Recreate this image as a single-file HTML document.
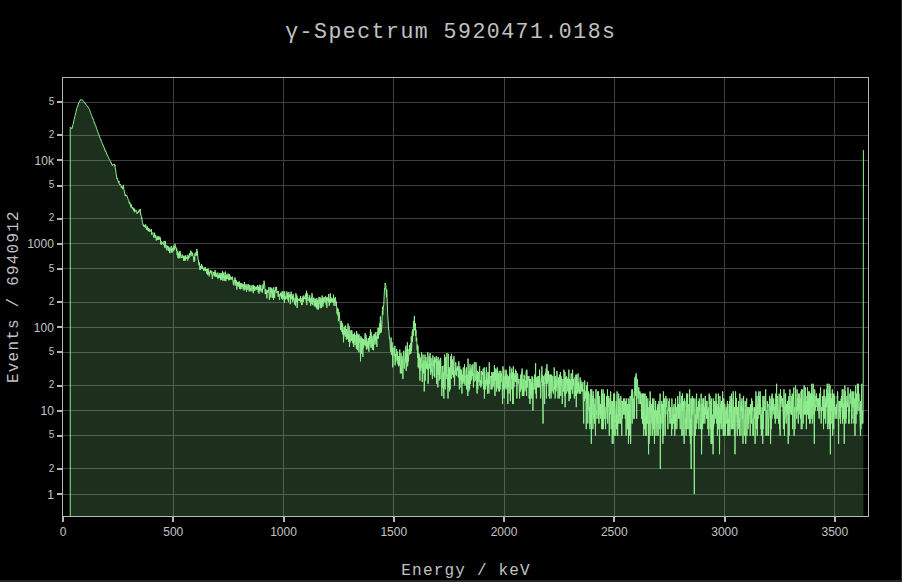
<!DOCTYPE html><html><head><meta charset="utf-8"><title>γ-Spectrum</title><style>
html,body{margin:0;padding:0;background:#262728;overflow:hidden}
#wrap{position:absolute;left:0;top:0;width:901px;height:580px;background:#000;overflow:hidden}
svg{position:absolute;left:0;top:0;display:block}
.tk{font-family:"Liberation Sans",sans-serif;font-size:12px;fill:#c4c4c4}
.tm{font-family:"Liberation Sans",sans-serif;font-size:10px;fill:#c4c4c4}
.ti{font-family:"Liberation Mono",monospace;font-size:21.5px;letter-spacing:1.5px;fill:#c2c2c2}
.at{font-family:"Liberation Mono",monospace;font-size:16px;letter-spacing:1.2px;fill:#c2c2c2}
</style></head><body><div id="wrap">
<svg width="901" height="580" viewBox="0 0 901 580">
<rect x="0" y="0" width="901" height="580" fill="#000"/>
<path d="M173,78h1v438h-1zM283,78h1v438h-1zM393,78h1v438h-1zM504,78h1v438h-1zM614,78h1v438h-1zM724,78h1v438h-1zM834,78h1v438h-1zM63,494h805v1h-805zM63,410h805v1h-805zM63,327h805v1h-805zM63,243h805v1h-805zM63,160h805v1h-805zM63,468h805v1h-805zM63,385h805v1h-805zM63,302h805v1h-805zM63,218h805v1h-805zM63,135h805v1h-805zM63,435h805v1h-805zM63,352h805v1h-805zM63,268h805v1h-805zM63,185h805v1h-805zM63,102h805v1h-805z" fill="#3f3f3f" stroke="none"/>
<defs><clipPath id="c"><rect x="63.0" y="78.0" width="805.0" height="438.0"/></clipPath></defs>
<g clip-path="url(#c)">
<path d="M70.23,516.00L70.23,127.21L70.62,127.47L70.82,127.03L71.01,127.47L71.21,127.76L71.80,128.80L71.99,128.52L72.19,127.97L72.97,124.80L73.16,124.18L73.95,120.14L74.14,119.48L74.92,116.23L75.12,115.40L75.90,112.28L76.10,111.31L76.88,108.18L77.07,107.67L77.85,105.93L78.05,104.90L78.83,102.55L79.03,102.41L79.81,100.80L80.00,100.88L80.79,99.53L80.98,99.87L81.18,99.63L81.76,100.08L81.96,99.78L82.74,100.24L82.94,100.57L83.72,101.25L83.91,101.65L84.50,102.74L84.70,102.44L84.89,102.74L85.67,104.49L85.87,104.40L86.65,105.13L86.85,105.54L87.63,107.01L87.82,106.77L88.60,108.02L88.80,108.27L89.58,109.62L89.78,110.68L90.56,112.51L90.76,113.35L91.54,115.27L91.73,115.69L92.51,117.96L92.71,118.47L92.91,118.26L93.49,120.25L93.69,120.82L94.47,123.32L94.66,123.10L95.25,125.27L95.45,125.17L95.64,125.40L96.42,127.88L96.62,128.71L97.21,130.29L97.40,130.21L97.60,131.63L97.79,131.59L98.38,133.80L98.57,133.83L99.36,136.03L99.55,136.71L100.33,138.75L100.53,139.40L100.72,139.02L101.31,141.11L101.51,141.25L102.29,143.64L102.48,143.80L103.07,145.55L103.26,145.24L103.46,145.82L104.05,147.90L104.24,147.87L104.44,147.99L105.02,150.64L105.22,150.35L105.41,151.11L105.81,150.80L106.00,152.23L106.20,152.11L106.39,152.78L106.78,154.64L107.17,154.41L107.37,154.82L108.15,156.75L108.35,157.12L109.13,158.87L109.32,159.41L109.52,159.33L110.11,160.67L110.30,161.45L111.08,163.04L111.28,162.78L112.06,165.22L112.26,165.52L112.45,165.75L112.84,164.65L113.04,164.93L113.23,164.46L113.43,164.95L114.01,164.18L114.21,164.63L114.60,163.92L114.80,166.10L114.99,165.44L115.19,167.79L115.97,172.19L116.16,174.00L116.95,178.91L117.14,178.14L117.34,178.05L117.92,180.87L118.12,180.90L118.71,182.89L118.90,181.07L119.10,183.77L119.29,183.62L119.88,185.13L120.07,184.95L120.46,184.27L120.86,185.67L121.05,185.74L121.25,187.49L121.83,185.97L122.03,188.09L122.42,187.59L122.81,189.19L123.01,187.87L123.40,184.87L123.79,189.10L123.98,189.34L124.76,193.78L124.96,194.60L125.35,196.13L125.55,194.43L125.74,195.56L125.94,195.37L126.33,195.24L126.52,195.91L126.72,195.36L126.91,195.44L127.70,197.92L127.89,198.69L128.67,200.71L128.87,200.70L129.46,203.91L129.65,201.85L129.85,203.72L130.24,203.67L130.63,205.98L130.82,206.03L131.02,207.49L131.21,204.29L131.61,206.55L131.80,206.74L132.39,208.62L132.58,207.03L132.78,208.02L133.56,210.41L133.76,207.77L134.34,212.28L134.54,211.15L134.73,208.95L134.93,211.70L135.51,211.38L135.71,210.39L136.30,210.21L136.49,211.58L136.69,211.55L137.08,213.85L137.47,212.33L137.66,212.65L138.06,212.93L138.45,211.06L138.64,212.60L139.23,209.60L139.42,210.51L139.62,210.31L140.01,211.77L140.21,209.05L140.40,210.42L140.60,214.92L140.79,214.34L141.38,216.78L141.57,218.90L141.77,217.76L142.36,221.90L142.55,222.74L143.33,225.73L143.53,226.06L143.72,224.59L144.12,226.90L144.31,225.25L144.51,226.74L144.90,226.83L145.29,225.93L145.48,227.61L145.68,224.42L146.27,227.93L146.46,229.58L147.24,226.38L147.44,230.10L147.63,227.91L148.22,230.75L148.42,228.33L149.20,231.82L149.39,228.97L149.59,228.78L149.78,231.20L150.17,230.57L150.37,230.37L150.96,229.60L151.15,232.03L151.35,229.26L151.74,234.86L152.13,234.30L152.32,233.26L152.91,232.43L153.11,233.20L153.30,234.27L153.89,237.71L154.08,235.63L154.28,236.21L154.67,232.74L155.06,237.26L155.26,237.56L155.65,234.97L156.04,238.20L156.23,240.54L157.02,236.54L157.21,237.74L157.80,239.98L157.99,235.95L158.19,239.92L158.77,237.56L158.97,238.61L159.17,236.54L159.75,239.72L159.95,239.47L160.14,237.20L160.92,244.23L161.12,241.18L161.32,244.75L161.90,243.36L162.10,243.22L162.49,243.87L162.68,242.37L162.88,243.08L163.07,243.65L163.47,244.75L163.86,244.27L164.05,240.94L164.44,247.49L164.83,245.01L165.03,244.97L165.22,240.91L165.81,246.34L166.01,248.30L166.20,244.90L166.79,245.76L166.98,250.36L167.37,245.80L167.77,246.42L167.96,247.65L168.55,246.54L168.74,250.93L168.94,247.89L169.52,252.19L169.72,247.53L169.92,253.16L170.31,249.29L170.70,249.29L170.89,248.92L171.28,245.92L171.48,252.09L171.67,250.93L171.87,249.55L172.07,252.74L172.26,248.05L172.65,250.28L172.85,249.93L173.24,246.73L173.63,251.06L173.82,245.69L174.41,249.59L174.61,249.25L174.80,247.21L175.00,243.83L175.39,247.77L175.58,246.69L175.78,247.65L175.97,247.37L176.56,251.02L176.76,248.58L177.15,255.13L177.54,250.97L177.73,252.55L177.93,257.91L178.52,253.30L178.71,258.34L179.30,251.46L179.49,255.33L179.69,253.82L179.88,258.28L180.08,251.06L180.47,255.88L180.67,254.88L181.45,257.85L181.64,256.91L182.03,257.75L182.23,254.54L182.42,256.85L182.62,256.44L182.82,256.39L183.40,258.55L183.60,256.44L183.79,260.97L183.99,255.68L184.38,260.45L184.57,257.11L185.16,256.29L185.36,260.57L185.55,257.06L185.75,255.28L186.33,258.66L186.53,257.59L186.72,257.11L187.12,258.66L187.31,258.12L187.51,259.21L187.70,260.62L187.90,254.69L188.29,258.99L188.48,258.77L188.68,256.13L189.27,257.48L189.46,255.43L189.66,253.16L189.85,256.80L190.24,253.39L190.44,254.49L190.63,250.71L191.22,251.33L191.42,251.91L192.00,256.08L192.20,255.13L192.39,254.01L192.59,252.69L193.17,256.54L193.37,256.60L193.96,261.97L194.15,259.94L194.35,256.70L194.74,260.51L194.93,253.44L195.13,255.28L195.32,256.03L196.11,252.00L196.30,253.68L196.50,255.28L196.89,249.04L197.08,254.69L197.28,255.73L197.48,251.51L198.06,259.43L198.26,259.21L199.04,265.35L199.23,262.33L200.02,269.97L200.21,266.62L200.41,265.88L200.60,269.74L200.99,266.02L201.19,268.36L201.38,264.00L201.97,268.72L202.17,265.62L202.75,268.94L202.95,267.38L203.14,268.87L203.34,268.51L203.73,271.03L203.93,269.67L204.12,270.12L204.90,267.38L205.10,271.10L205.29,267.31L205.88,270.57L206.08,270.87L206.47,269.16L206.66,273.57L206.86,271.65L207.05,269.89L207.44,268.94L207.64,275.00L207.83,272.43L208.03,268.44L208.81,274.15L209.01,272.59L209.20,276.39L209.40,272.28L209.79,272.92L209.98,272.20L210.18,270.34L210.38,272.68L210.77,270.49L210.96,271.18L211.35,274.40L211.74,271.88L211.94,271.18L212.33,278.98L212.72,275.78L212.92,274.49L213.31,275.25L213.50,272.12L213.70,273.24L213.89,274.23L214.48,272.12L214.68,276.22L214.87,273.98L215.07,270.19L215.46,276.84L215.65,272.43L215.85,273.32L216.24,273.24L216.63,276.66L216.83,275.25L217.41,277.48L217.61,277.11L217.80,272.59L218.00,278.69L218.58,275.25L218.78,275.60L218.98,277.94L219.37,273.49L219.56,277.66L219.76,276.84L220.15,273.08L220.54,280.14L220.73,274.83L221.32,279.75L221.52,279.65L221.71,273.16L222.10,278.13L222.49,270.95L222.69,277.66L222.88,280.74L223.28,274.07L223.47,277.85L223.67,272.76L224.06,272.43L224.25,280.84L224.45,275.78L224.64,276.57L225.03,279.46L225.43,271.57L225.62,278.69L225.82,281.14L226.01,274.91L226.40,276.22L226.60,278.41L226.79,279.07L226.99,274.32L227.38,277.94L227.58,278.88L227.77,278.98L227.97,273.49L228.36,276.48L228.55,279.75L228.75,280.34L229.33,273.98L229.53,279.94L229.73,275.34L230.31,276.48L230.51,278.98L230.70,279.65L230.90,278.03L231.29,278.88L231.48,278.98L231.68,276.93L232.07,279.65L232.27,277.66L232.46,276.66L233.24,283.34L233.44,285.22L234.03,280.34L234.22,281.86L234.42,282.28L235.00,277.39L235.20,285.56L235.39,281.14L235.59,279.75L235.78,283.66L236.18,283.34L236.37,283.55L236.57,280.54L236.76,289.56L237.15,286.14L237.35,281.96L238.13,286.61L238.33,283.99L238.52,281.86L238.91,286.14L239.11,281.86L239.30,281.45L239.50,288.67L240.08,284.10L240.28,289.30L240.48,282.91L241.06,288.80L241.26,287.56L241.84,283.12L242.04,284.54L242.23,286.73L242.82,284.10L243.02,289.17L243.21,288.80L243.60,284.77L243.99,290.60L244.19,289.17L244.38,281.86L244.97,288.18L245.17,289.43L245.95,284.21L246.14,285.68L246.53,291.94L246.93,284.77L247.12,288.30L247.51,287.56L247.90,289.81L248.10,283.99L248.88,289.43L249.08,290.86L249.27,291.53L249.47,284.88L249.86,286.37L250.05,285.56L250.44,291.13L250.84,288.42L251.03,289.81L251.42,285.68L251.81,286.49L252.01,291.53L252.20,285.33L252.79,286.37L252.99,287.69L253.38,293.19L253.57,284.88L253.77,285.11L253.96,287.32L254.16,286.14L254.74,290.86L254.94,286.49L255.72,289.30L255.92,287.32L256.11,289.56L256.70,286.49L256.89,288.67L257.29,289.94L257.68,284.99L257.87,285.91L258.26,292.21L258.65,286.84L258.85,289.94L259.04,293.62L259.24,286.73L259.63,290.73L259.83,284.77L260.61,290.33L260.80,285.22L261.19,292.07L261.59,291.53L261.78,290.73L261.98,288.67L262.37,292.63L262.56,289.94L262.76,288.80L262.95,284.32L263.15,289.05L263.54,285.91L263.74,285.45L263.93,280.74L264.52,282.28L264.71,284.99L265.30,294.19L265.49,289.56L265.69,293.47L265.89,289.43L266.08,294.05L266.47,291.39L266.67,290.73L266.86,298.35L267.06,290.60L267.45,292.63L267.64,290.73L267.84,290.07L268.04,292.77L268.43,291.26L268.62,289.30L268.82,287.20L269.40,300.02L269.60,296.91L270.19,287.32L270.38,291.13L270.58,289.56L270.77,297.54L271.16,287.69L271.36,292.91L271.55,290.07L271.75,289.30L272.34,297.86L272.53,290.20L272.73,290.46L273.31,287.44L273.51,299.85L274.09,290.20L274.29,290.20L274.49,296.14L274.68,297.86L275.27,286.84L275.46,287.93L275.66,291.26L276.24,287.69L276.44,287.93L276.64,287.08L276.83,293.05L277.22,291.80L277.42,291.80L277.81,290.99L278.20,296.75L278.39,291.26L279.18,297.38L279.37,297.54L279.57,300.02L279.96,294.19L280.15,296.29L280.35,295.08L280.74,292.63L281.13,295.98L281.33,293.05L281.52,298.51L282.11,291.26L282.30,293.33L282.69,299.68L283.09,291.53L283.28,298.51L284.06,293.76L284.26,294.63L284.45,302.86L284.65,291.39L285.04,295.98L285.24,298.19L285.43,299.51L286.02,295.83L286.21,296.14L286.60,298.51L286.80,291.39L286.99,293.76L287.19,294.34L287.39,293.05L287.78,300.19L287.97,299.85L288.17,294.78L288.56,302.13L288.75,291.94L288.95,293.19L289.14,293.76L289.93,297.54L290.12,294.93L290.32,304.18L290.71,294.34L290.90,298.84L291.10,291.66L291.69,299.18L291.88,294.78L292.08,297.54L292.47,296.29L292.66,302.13L292.86,300.71L293.05,299.01L293.25,293.90L293.44,299.68L293.84,298.68L294.03,299.18L294.81,304.57L295.01,297.70L295.59,305.75L295.79,293.19L295.99,293.33L296.57,302.13L296.77,299.51L296.96,295.53L297.16,308.02L297.74,298.19L297.94,301.06L298.14,299.51L298.72,299.51L298.92,299.51L299.31,299.18L299.70,301.06L299.89,298.35L300.29,300.02L300.68,295.98L300.87,302.31L301.07,298.19L301.65,305.15L301.85,303.23L302.24,304.76L302.63,296.91L302.83,297.23L303.02,296.44L303.41,301.77L303.61,300.88L303.80,295.38L304.00,299.01L304.59,296.91L304.78,297.86L305.37,299.34L305.56,293.62L305.76,295.08L306.35,301.77L306.54,290.73L306.74,305.15L306.93,292.77L307.52,296.60L307.71,294.49L307.91,300.88L308.50,298.84L308.69,298.35L308.89,297.38L309.47,302.31L309.67,295.23L310.25,301.24L310.45,299.51L310.65,305.75L310.84,298.51L311.43,300.36L311.62,297.23L311.82,303.80L312.01,293.19L312.40,301.06L312.60,302.31L312.80,305.15L313.19,299.34L313.38,302.13L313.58,301.59L313.77,297.70L314.36,306.35L314.55,304.96L314.95,298.68L315.34,300.54L315.53,306.35L315.73,298.84L316.31,307.81L316.51,304.18L316.90,298.19L317.10,309.10L317.29,300.19L317.49,303.80L317.88,300.36L318.07,309.76L318.27,302.86L318.46,308.66L319.05,296.91L319.25,303.61L319.44,302.68L320.03,297.23L320.22,308.23L320.42,298.84L320.81,305.75L321.20,298.51L321.40,304.18L321.59,308.02L322.18,295.53L322.37,299.34L322.96,306.56L323.15,297.38L323.35,303.42L323.55,298.35L324.13,300.54L324.33,298.03L324.52,297.38L324.91,302.50L325.11,300.88L325.30,299.34L325.70,296.29L326.09,304.57L326.28,302.68L326.48,297.70L326.87,307.81L327.06,300.71L327.26,300.19L327.65,297.23L327.85,300.71L328.04,298.84L328.24,299.68L328.43,302.31L328.63,294.05L329.02,298.51L329.21,305.75L329.80,298.51L330.00,303.23L330.19,295.83L330.39,293.33L330.58,300.88L330.97,300.71L331.17,302.50L331.75,297.70L331.95,301.41L332.15,302.13L332.34,298.68L332.93,300.19L333.12,301.59L333.32,303.05L333.51,294.63L333.90,300.54L334.10,305.95L334.49,298.51L334.88,303.23L335.08,298.19L335.47,297.23L335.86,303.61L336.05,305.95L336.25,301.59L336.84,308.88L337.03,313.78L337.42,307.81L337.81,311.36L338.01,315.57L338.20,308.88L338.40,321.24L338.79,318.30L338.99,313.78L339.18,312.31L339.77,320.04L339.96,320.64L340.75,329.87L340.94,321.24L341.53,320.94L341.72,331.87L341.92,331.46L342.11,322.81L342.50,333.56L342.70,324.45L342.90,334.43L343.29,330.26L343.48,342.29L343.68,338.15L343.87,333.13L344.07,327.24L344.46,334.87L344.65,327.60L344.85,326.52L345.24,336.71L345.44,325.47L345.63,325.82L345.83,328.72L346.41,339.65L346.61,329.10L346.80,333.13L347.20,330.66L347.59,336.71L347.78,339.14L347.98,323.46L348.56,341.75L348.76,335.32L349.15,326.17L349.54,346.97L349.74,333.99L350.13,342.29L350.52,330.66L350.71,332.70L351.30,330.26L351.50,340.68L351.69,338.15L351.89,330.66L352.08,340.68L352.47,340.16L352.67,334.43L352.86,343.41L353.45,333.99L353.65,346.97L354.23,334.43L354.43,341.75L354.62,332.70L354.82,345.15L355.40,343.41L355.60,342.84L355.80,334.87L356.38,348.90L356.58,331.06L357.36,350.24L357.56,339.65L357.75,333.56L357.95,347.60L358.34,345.15L358.53,335.32L358.92,352.35L359.12,334.43L359.31,342.29L359.51,339.14L360.10,338.15L360.29,345.74L360.49,361.35L360.88,336.24L361.27,353.83L361.46,343.41L361.66,337.66L362.25,341.21L362.44,349.56L362.64,338.64L362.83,356.98L363.22,339.14L363.42,339.14L363.61,347.60L364.20,340.16L364.40,343.41L364.59,345.15L365.18,333.13L365.37,341.21L365.76,345.74L365.96,334.87L366.16,340.16L366.35,349.56L366.74,338.15L367.13,345.74L367.33,342.29L367.72,348.24L367.91,340.68L368.11,346.35L368.31,349.56L368.50,338.15L368.89,351.63L369.09,346.35L369.28,345.15L369.67,336.24L370.06,343.98L370.26,336.24L370.46,329.48L370.85,347.60L371.04,331.87L371.24,333.56L372.02,347.60L372.21,339.14L372.41,349.56L373.00,335.78L373.19,343.41L373.58,350.24L373.97,334.43L374.17,340.68L374.36,334.43L374.95,344.56L375.15,337.66L375.34,332.28L375.54,339.65L375.93,335.78L376.12,343.41L376.32,336.71L376.91,346.97L377.10,331.87L377.30,338.64L377.88,336.24L378.08,327.97L378.27,338.64L378.86,327.60L379.06,333.13L379.25,334.43L379.84,323.46L380.03,328.72L380.42,316.37L380.62,333.13L380.81,320.64L381.01,323.13L381.21,332.28L381.79,327.60L381.99,319.74L382.57,306.76L382.77,315.05L382.96,309.99L383.75,304.57L383.94,300.36L384.53,288.05L384.72,288.30L384.92,289.30L385.11,282.91L385.70,285.33L385.90,285.68L386.48,297.23L386.68,289.43L386.87,292.35L387.66,313.28L387.85,316.64L388.63,329.87L388.83,329.48L389.41,338.64L389.61,337.18L389.81,338.15L390.59,351.63L390.78,348.90L391.17,337.66L391.37,354.59L391.56,350.93L391.76,350.24L392.15,342.29L392.35,355.37L392.54,347.60L392.74,367.40L393.13,352.35L393.52,353.08L393.71,352.35L393.91,347.60L394.30,356.17L394.50,356.17L394.69,353.08L394.89,345.74L395.08,365.27L395.47,353.83L395.67,362.29L396.06,354.59L396.45,354.59L396.65,348.90L396.84,360.43L397.43,360.43L397.62,351.63L397.82,364.25L398.41,356.17L398.60,366.32L398.80,359.54L399.38,365.27L399.58,355.37L399.77,349.56L400.36,373.35L400.56,366.32L400.75,370.85L400.95,353.08L401.34,363.26L401.53,373.35L401.92,356.17L402.31,361.35L402.51,359.54L402.90,378.94L403.29,355.37L403.49,350.93L404.27,367.40L404.46,368.52L405.25,350.24L405.44,362.29L405.83,345.74L406.22,370.85L406.42,352.35L406.61,362.29L406.81,348.90L407.20,350.24L407.40,342.29L407.59,366.32L408.18,357.81L408.37,361.35L408.96,348.90L409.16,350.93L409.35,354.59L409.55,345.15L410.13,352.35L410.33,344.56L410.52,343.41L410.72,353.83L411.11,349.56L411.31,336.24L411.50,350.93L412.09,337.66L412.28,331.46L412.48,341.75L412.87,329.10L413.07,329.87L413.26,335.78L413.46,320.94L414.04,327.60L414.24,320.04L414.43,315.84L414.63,330.26L415.02,327.24L415.22,330.66L415.41,323.13L415.61,335.78L416.00,329.87L416.19,341.21L416.78,337.66L416.97,345.74L417.17,350.24L417.37,344.56L417.76,357.81L417.95,345.74L418.15,367.40L418.73,353.08L418.93,364.25L419.12,368.52L419.52,354.59L419.91,380.48L420.10,362.29L420.49,357.81L420.69,370.85L420.88,367.40L421.08,359.54L421.67,352.35L421.86,367.40L422.06,364.25L422.25,382.09L422.84,359.54L423.03,354.59L423.62,373.35L423.82,372.08L424.01,360.43L424.21,391.43L424.79,374.67L424.99,354.59L425.38,380.48L425.77,359.54L425.97,356.98L426.55,368.52L426.75,362.29L426.94,365.27L427.53,369.67L427.72,352.35L427.92,352.35L428.12,383.77L428.70,364.25L428.90,365.27L429.09,356.17L429.68,368.52L429.87,355.37L430.07,353.08L430.66,374.67L430.85,370.85L431.05,357.81L431.63,366.32L431.83,372.08L432.02,368.52L432.42,378.94L432.61,369.67L432.81,355.37L433.20,366.32L433.59,360.43L433.78,361.35L434.17,376.04L434.37,356.98L434.57,369.67L434.76,377.46L435.15,358.66L435.54,362.29L435.74,361.35L436.32,356.17L436.52,383.77L436.72,359.54L436.91,358.66L437.30,372.08L437.50,361.35L437.69,362.29L437.89,387.40L438.08,356.98L438.47,369.67L438.67,374.67L439.06,361.35L439.26,380.48L439.45,378.94L439.65,360.43L440.04,378.94L440.23,358.66L440.43,372.08L440.62,357.81L441.41,380.48L441.60,382.09L441.80,395.96L442.19,366.32L442.38,368.52L442.58,366.32L442.77,387.40L443.36,372.08L443.56,393.62L443.95,398.46L444.14,365.27L444.34,374.67L444.53,354.59L445.12,389.36L445.32,374.67L445.51,356.98L446.10,378.94L446.29,372.08L446.49,372.08L446.88,353.08L447.07,376.04L447.27,374.67L447.47,377.46L448.05,398.46L448.25,353.83L448.44,387.40L448.83,367.40L449.22,370.85L449.42,391.43L449.62,367.40L450.20,389.36L450.40,365.27L450.79,356.17L451.18,378.94L451.37,368.52L451.57,353.83L452.16,374.67L452.35,360.43L452.55,359.54L452.94,374.67L453.13,369.67L453.33,377.46L453.92,356.17L454.11,370.85L454.31,374.67L454.50,385.54L454.89,370.85L455.09,374.67L455.28,369.67L455.48,370.85L455.67,362.29L456.07,365.27L456.26,369.67L456.46,376.04L456.85,368.52L457.04,369.67L457.24,369.67L457.43,366.32L457.82,370.85L458.02,367.40L458.22,376.04L458.41,377.46L458.80,361.35L459.00,366.32L459.19,380.48L459.39,389.36L459.78,366.32L459.97,387.40L460.17,378.94L460.56,369.67L460.76,380.48L460.95,372.08L461.15,378.94L461.34,369.67L461.93,393.62L462.12,377.46L462.52,374.67L462.71,383.77L462.91,377.46L463.10,370.85L463.30,367.40L463.88,382.09L464.08,374.67L464.28,383.77L464.47,364.25L464.86,377.46L465.06,385.54L465.25,376.04L465.84,377.46L466.03,369.67L466.43,367.40L466.62,389.36L466.82,377.46L467.01,383.77L467.60,374.67L467.79,395.96L467.99,358.66L468.77,391.43L468.97,383.77L469.36,370.85L469.55,389.36L469.75,383.77L469.94,364.25L470.53,383.77L470.73,368.52L470.92,372.08L471.12,380.48L471.51,370.85L471.70,378.94L471.90,365.27L472.29,376.04L472.68,373.35L472.88,364.25L473.46,387.40L473.66,373.35L473.85,374.67L474.05,382.09L474.24,362.29L474.63,362.29L474.83,369.67L475.42,380.48L475.61,378.94L475.81,376.04L476.00,362.29L476.59,378.94L476.78,389.36L477.18,393.62L477.37,370.85L477.57,383.77L477.76,389.36L478.54,373.35L478.74,372.08L478.93,382.09L479.52,366.32L479.72,366.32L479.91,385.54L480.50,380.48L480.69,382.09L480.89,387.40L481.28,370.85L481.48,385.54L481.67,380.48L481.87,383.77L482.06,372.08L482.45,374.67L482.65,374.67L483.23,368.52L483.43,385.54L483.63,389.36L484.21,367.40L484.41,398.46L484.60,372.08L484.99,387.40L485.38,380.48L485.58,389.36L486.36,367.40L486.56,383.77L486.75,372.08L487.14,385.54L487.34,378.94L487.53,393.62L488.12,372.08L488.32,387.40L488.51,373.35L488.90,393.62L489.29,362.29L489.49,383.77L489.68,377.46L490.27,377.46L490.47,377.46L490.66,376.04L491.05,389.36L491.25,378.94L491.44,378.94L491.83,372.08L492.03,389.36L492.23,377.46L492.42,377.46L492.62,373.35L492.81,387.40L493.20,377.46L493.40,372.08L493.79,385.54L494.18,383.77L494.38,365.27L494.96,395.96L495.16,376.04L495.35,370.85L495.55,380.48L495.74,368.52L496.13,374.67L496.33,377.46L496.53,391.43L496.92,369.67L497.11,383.77L497.31,367.40L497.70,387.40L498.09,385.54L498.28,389.36L498.68,373.35L498.87,391.43L499.07,380.48L499.26,370.85L499.46,391.43L500.04,387.40L500.24,389.36L500.83,370.85L501.02,382.09L501.22,373.35L502.00,378.94L502.19,383.77L502.58,404.05L502.98,366.32L503.17,370.85L503.56,389.36L503.76,369.67L503.95,373.35L504.15,398.46L504.93,376.04L505.13,378.94L505.32,387.40L505.91,369.67L506.10,389.36L506.30,370.85L506.88,383.77L507.08,380.48L507.28,374.67L507.86,404.05L508.06,377.46L508.45,387.40L508.84,376.04L509.03,393.62L509.82,366.32L510.01,372.08L510.40,401.15L510.79,378.94L510.99,373.35L511.58,378.94L511.77,368.52L511.97,389.36L512.36,372.08L512.75,404.05L512.94,373.35L513.14,404.05L513.33,366.32L513.73,377.46L513.92,387.40L514.51,376.04L514.70,378.94L514.90,373.35L515.29,382.09L515.48,369.67L515.68,382.09L515.88,376.04L516.07,370.85L516.66,382.09L516.85,398.46L517.44,373.35L517.64,374.67L517.83,374.67L518.03,383.77L518.61,380.48L518.81,378.94L519.59,398.46L519.79,385.54L520.18,378.94L520.37,391.43L520.57,391.43L520.76,374.67L520.96,389.36L521.54,372.08L521.74,387.40L522.13,368.52L522.33,395.96L522.52,385.54L522.72,385.54L523.11,395.96L523.30,378.94L523.50,393.62L523.69,391.43L523.89,395.96L524.09,374.67L524.48,380.48L524.67,376.04L524.87,391.43L525.45,382.09L525.65,380.48L526.04,389.36L526.24,370.85L526.43,383.77L526.63,395.96L526.82,369.67L527.41,385.54L527.60,387.40L527.80,376.04L528.39,380.48L528.58,380.48L528.97,376.04L529.17,398.46L529.36,378.94L529.56,398.46L529.75,385.54L529.95,404.05L530.34,389.36L530.54,382.09L530.73,378.94L531.12,398.46L531.32,382.09L531.51,393.62L532.10,376.04L532.29,398.46L532.49,393.62L532.69,377.46L532.88,410.65L533.27,387.40L533.47,389.36L534.25,378.94L534.44,385.54L534.64,374.67L534.84,389.36L535.23,383.77L535.42,373.35L535.62,363.26L535.81,393.62L536.20,378.94L536.40,398.46L536.59,377.46L537.18,377.46L537.38,387.40L537.96,376.04L538.16,385.54L538.35,380.48L538.55,387.40L538.74,376.04L539.14,380.48L539.33,387.40L539.53,369.67L540.11,380.48L540.31,383.77L540.70,398.46L541.09,383.77L541.29,380.48L541.68,382.09L541.87,366.32L542.07,382.09L542.26,377.46L542.46,374.67L543.04,423.57L543.24,376.04L543.63,385.54L544.02,382.09L544.22,389.36L544.61,404.05L544.80,374.67L545.00,376.04L545.19,380.48L545.59,373.35L545.78,383.77L545.98,382.09L546.17,368.52L546.37,398.46L546.95,364.25L547.15,382.09L547.34,383.77L547.54,370.85L547.93,372.08L548.13,382.09L548.52,370.85L548.91,395.96L549.10,393.62L549.49,398.46L549.69,374.67L549.89,377.46L550.08,393.62L550.47,374.67L550.86,382.09L551.06,398.46L551.64,374.67L551.84,377.46L552.04,391.43L552.82,376.04L553.01,380.48L553.40,393.62L553.79,387.40L553.99,389.36L554.19,367.40L554.77,389.36L554.97,378.94L555.16,398.46L555.75,376.04L555.94,389.36L556.14,391.43L556.34,380.48L556.73,387.40L556.92,370.85L557.70,385.54L557.90,391.43L558.09,398.46L558.49,377.46L558.68,382.09L558.88,385.54L559.27,398.46L559.46,374.67L559.66,395.96L559.85,391.43L560.44,372.08L560.64,383.77L560.83,395.96L561.03,376.04L561.61,385.54L561.81,378.94L562.20,404.05L562.59,398.46L562.79,383.77L562.98,378.94L563.37,391.43L563.57,391.43L563.76,387.40L563.96,369.67L564.54,378.94L564.74,395.96L564.94,372.08L565.13,407.20L565.52,377.46L565.72,380.48L566.11,393.62L566.50,376.04L566.69,383.77L567.48,378.94L567.67,391.43L568.06,377.46L568.45,380.48L568.65,393.62L568.84,369.67L569.04,401.15L569.43,378.94L569.63,383.77L569.82,398.46L570.21,380.48L570.41,398.46L570.60,385.54L571.19,373.35L571.39,389.36L571.58,389.36L571.97,378.94L572.36,393.62L572.56,369.67L573.15,385.54L573.34,383.77L573.54,378.94L574.32,398.46L574.51,395.96L574.90,377.46L575.30,378.94L575.49,395.96L575.88,374.67L576.27,407.20L576.47,389.36L576.66,374.67L577.25,385.54L577.45,382.09L577.64,393.62L578.03,373.35L578.23,391.43L578.42,387.40L578.62,382.09L579.20,393.62L579.40,393.62L580.18,377.46L580.38,389.36L580.57,393.62L580.96,380.48L581.16,391.43L581.35,387.40L581.55,383.77L582.14,391.43L582.33,391.43L582.92,382.09L583.11,395.96L583.31,404.05L583.70,423.57L583.90,389.36L584.09,391.43L584.29,395.96L584.48,401.15L584.68,380.48L585.07,398.46L585.26,391.43L585.65,398.46L586.05,393.62L586.24,429.15L586.44,385.54L587.02,395.96L587.22,410.65L587.41,382.09L587.80,423.57L588.00,410.65L588.20,410.65L588.59,391.43L588.98,404.05L589.17,410.65L589.56,407.20L589.95,429.15L590.15,393.62L590.35,423.57L590.74,389.36L590.93,398.46L591.13,404.05L591.32,443.84L591.71,389.36L591.91,414.47L592.10,407.20L592.69,395.96L592.89,429.15L593.08,410.65L593.28,391.43L593.67,418.73L593.86,410.65L594.06,404.05L594.45,423.57L594.84,410.65L595.04,398.46L595.43,435.76L595.82,410.65L596.01,389.36L596.21,414.47L596.80,410.65L596.99,418.73L597.58,391.43L597.77,404.05L597.97,404.05L598.36,418.73L598.55,391.43L598.75,410.65L598.95,423.57L599.14,395.96L599.73,414.47L599.92,407.20L600.12,404.05L600.31,418.73L600.70,404.05L600.90,414.47L601.49,389.36L601.68,429.15L601.88,404.05L602.46,429.15L602.66,393.62L602.85,414.47L603.05,389.36L603.25,429.15L603.64,423.57L603.83,404.05L604.42,393.62L604.61,418.73L604.81,418.73L605.00,407.20L605.59,429.15L605.79,414.47L606.57,395.96L606.76,407.20L607.15,418.73L607.55,389.36L607.74,423.57L607.94,398.46L608.52,407.20L608.72,395.96L609.30,435.76L609.50,410.65L609.70,407.20L609.89,398.46L610.28,414.47L610.48,407.20L610.67,391.43L611.26,429.15L611.45,414.47L611.65,414.47L611.85,401.15L612.24,443.84L612.43,423.57L612.63,401.15L613.02,443.84L613.41,410.65L613.60,393.62L614.00,435.76L614.39,414.47L614.58,393.62L615.17,435.76L615.36,423.57L615.56,418.73L616.15,401.15L616.34,404.05L616.54,429.15L617.12,391.43L617.32,435.76L617.51,418.73L617.71,435.76L617.90,414.47L618.30,423.57L618.49,404.05L618.69,393.62L619.08,423.57L619.27,407.20L619.47,414.47L619.86,398.46L620.05,423.57L620.25,423.57L620.45,423.57L620.84,395.96L621.23,414.47L621.42,418.73L621.81,435.76L622.01,401.15L622.20,404.05L622.40,418.73L622.79,401.15L623.18,414.47L623.38,407.20L623.57,398.46L624.16,414.47L624.36,410.65L624.75,398.46L624.94,414.47L625.14,414.47L625.33,418.73L625.72,401.15L626.11,435.76L626.31,404.05L626.70,398.46L627.09,429.15L627.29,418.73L627.48,429.15L627.68,404.05L628.07,423.57L628.26,410.65L628.46,443.84L628.85,398.46L629.05,429.15L629.24,404.05L629.63,435.76L630.02,404.05L630.22,395.96L630.61,443.84L631.00,414.47L631.20,401.15L631.98,389.36L632.17,423.57L632.37,389.36L632.96,393.62L633.15,418.73L633.74,398.46L633.93,404.05L634.13,407.20L634.32,418.73L634.91,377.46L635.11,393.62L635.69,376.04L635.89,395.96L636.08,373.35L636.67,418.73L636.86,401.15L637.06,387.40L637.45,378.94L637.84,391.43L638.04,398.46L638.82,387.40L639.01,404.05L639.21,391.43L639.80,393.62L639.99,391.43L640.38,404.05L640.77,393.62L640.97,404.05L641.36,401.15L641.56,418.73L641.75,404.05L641.95,393.62L642.53,423.57L642.73,393.62L642.92,398.46L643.31,393.62L643.71,435.76L643.90,410.65L644.10,393.62L644.68,429.15L644.88,404.05L645.07,393.62L645.66,435.76L645.86,418.73L646.05,435.76L646.44,395.96L646.64,423.57L646.83,410.65L647.22,404.05L647.42,423.57L647.61,414.47L647.81,398.46L648.59,454.26L648.79,407.20L648.98,443.84L649.57,418.73L649.76,401.15L649.96,414.47L650.16,391.43L650.55,407.20L650.74,435.76L651.52,407.20L651.72,404.05L651.91,423.57L652.50,398.46L652.70,435.76L653.09,401.15L653.48,429.15L653.67,423.57L653.87,398.46L654.46,443.84L654.65,410.65L655.04,435.76L655.43,418.73L655.63,401.15L655.82,414.47L656.41,410.65L656.61,429.15L657.00,435.76L657.39,407.20L657.58,423.57L657.78,404.05L658.17,435.76L658.36,407.20L658.56,414.47L658.95,401.15L659.15,429.15L659.34,410.65L659.54,414.47L660.12,393.62L660.32,468.95L660.51,414.47L660.71,429.15L661.30,404.05L661.49,410.65L661.69,401.15L661.88,423.57L662.27,410.65L662.47,404.05L662.86,443.84L663.25,401.15L663.45,391.43L663.64,435.76L664.23,404.05L664.42,398.46L665.21,435.76L665.40,418.73L665.79,395.96L666.18,407.20L666.38,407.20L666.96,398.46L667.16,414.47L667.36,410.65L667.94,429.15L668.14,410.65L668.33,407.20L668.53,410.65L668.92,401.15L669.11,407.20L669.31,398.46L669.70,423.57L670.09,423.57L670.29,418.73L670.48,407.20L671.07,423.57L671.26,418.73L671.66,435.76L671.85,398.46L672.05,407.20L672.24,418.73L672.63,429.15L673.02,407.20L673.22,423.57L674.00,404.05L674.20,423.57L674.39,414.47L674.78,435.76L674.98,429.15L675.17,407.20L675.37,429.15L675.56,398.46L675.96,418.73L676.15,414.47L676.35,407.20L676.74,429.15L676.93,429.15L677.13,423.57L677.72,395.96L677.91,401.15L678.11,410.65L678.30,418.73L678.69,404.05L678.89,410.65L679.08,414.47L679.28,418.73L679.87,391.43L680.06,423.57L680.26,429.15L680.45,404.05L680.84,404.05L681.04,404.05L681.43,395.96L681.82,435.76L682.02,395.96L682.21,410.65L682.41,393.62L682.80,410.65L682.99,435.76L683.38,401.15L683.77,407.20L683.97,429.15L684.17,443.84L684.36,398.46L684.75,407.20L684.95,401.15L685.73,429.15L685.92,418.73L686.12,435.76L686.51,393.62L686.71,401.15L686.90,429.15L687.68,393.62L687.88,418.73L688.07,429.15L688.27,404.05L688.66,407.20L688.86,414.47L689.44,435.76L689.64,389.36L689.83,423.57L690.03,398.46L690.42,443.84L690.62,423.57L690.81,418.73L691.20,468.95L691.40,398.46L691.59,414.47L691.79,401.15L691.98,435.76L692.37,395.96L692.57,410.65L692.77,414.47L693.55,398.46L693.74,407.20L694.33,494.06L694.52,429.15L694.72,418.73L694.92,398.46L695.31,435.76L695.50,418.73L695.70,414.47L696.09,429.15L696.48,395.96L696.67,393.62L696.87,423.57L697.46,407.20L697.65,418.73L698.43,401.15L698.63,414.47L698.82,429.15L699.22,398.46L699.41,404.05L699.61,410.65L699.80,404.05L700.39,429.15L700.58,423.57L701.17,393.62L701.37,418.73L701.56,454.26L702.15,404.05L702.34,404.05L702.54,429.15L702.93,398.46L703.32,410.65L703.52,423.57L703.71,398.46L704.30,418.73L704.49,407.20L704.88,423.57L705.27,395.96L705.47,414.47L705.67,401.15L706.25,407.20L706.45,418.73L706.64,401.15L707.23,401.15L707.42,418.73L707.62,410.65L707.82,429.15L708.21,414.47L708.40,407.20L708.79,435.76L709.18,393.62L709.38,404.05L709.97,395.96L710.16,429.15L710.36,401.15L711.14,443.84L711.33,398.46L711.53,443.84L712.12,423.57L712.31,443.84L712.70,414.47L713.09,454.26L713.29,398.46L713.48,429.15L714.07,418.73L714.27,423.57L714.66,401.15L715.05,407.20L715.24,418.73L716.02,393.62L716.22,414.47L716.42,401.15L716.81,423.57L717.00,407.20L717.20,410.65L717.39,435.76L717.98,404.05L718.17,414.47L718.37,393.62L718.57,429.15L718.96,423.57L719.15,407.20L719.54,454.26L719.93,395.96L720.13,407.20L720.72,423.57L720.91,404.05L721.11,429.15L721.50,401.15L721.89,423.57L722.08,429.15L722.67,391.43L722.87,410.65L723.06,401.15L723.26,435.76L723.84,398.46L724.04,435.76L724.82,404.05L725.02,410.65L725.21,435.76L725.80,410.65L725.99,414.47L726.19,407.20L726.38,423.57L726.77,418.73L726.97,410.65L727.36,401.15L727.75,435.76L727.95,404.05L728.73,435.76L728.92,418.73L729.32,429.15L729.71,401.15L729.90,435.76L730.10,395.96L730.68,414.47L730.88,418.73L731.27,429.15L731.47,393.62L731.66,429.15L731.86,398.46L732.44,429.15L732.64,418.73L732.83,414.47L733.23,391.43L733.62,423.57L733.81,429.15L734.20,407.20L734.40,435.76L734.59,407.20L734.79,410.65L734.98,454.26L735.57,391.43L735.77,407.20L735.96,398.46L736.35,414.47L736.55,398.46L736.74,423.57L737.33,435.76L737.53,407.20L737.72,407.20L738.31,429.15L738.50,401.15L738.70,401.15L739.09,423.57L739.48,418.73L739.68,435.76L739.87,393.62L740.46,410.65L740.65,410.65L741.04,435.76L741.43,401.15L741.63,410.65L742.02,398.46L742.41,418.73L742.61,407.20L743.00,443.84L743.39,407.20L743.58,395.96L744.37,435.76L744.56,435.76L745.15,401.15L745.34,423.57L745.54,410.65L745.73,443.84L746.13,401.15L746.32,404.05L746.52,401.15L746.71,398.46L746.91,435.76L747.30,414.47L747.49,418.73L747.69,407.20L748.08,429.15L748.28,407.20L748.47,423.57L749.25,410.65L749.45,414.47L749.84,407.20L750.23,435.76L750.43,404.05L751.21,418.73L751.40,423.57L751.60,398.46L752.18,410.65L752.38,404.05L752.58,401.15L752.97,435.76L753.16,418.73L753.36,435.76L754.14,407.20L754.33,418.73L754.92,407.20L755.12,443.84L755.31,429.15L755.90,391.43L756.09,398.46L756.29,407.20L756.68,429.15L757.07,395.96L757.27,435.76L757.85,404.05L758.05,418.73L758.24,407.20L758.83,391.43L759.03,414.47L759.22,395.96L759.61,414.47L760.00,401.15L760.20,391.43L760.98,429.15L761.18,414.47L761.37,435.76L761.96,407.20L762.15,407.20L762.74,443.84L762.93,395.96L763.13,429.15L763.72,401.15L763.91,404.05L764.11,395.96L764.50,410.65L764.89,407.20L765.08,410.65L765.67,389.36L765.87,398.46L766.06,435.76L766.26,410.65L766.84,410.65L767.04,435.76L767.23,401.15L767.82,407.20L768.02,404.05L768.60,435.76L768.80,418.73L768.99,418.73L769.58,395.96L769.78,407.20L769.97,410.65L770.17,407.20L770.56,443.84L770.75,429.15L770.95,398.46L771.14,429.15L771.53,395.96L771.73,414.47L771.93,418.73L772.12,393.62L772.71,410.65L772.90,401.15L773.10,414.47L773.68,398.46L773.88,410.65L774.08,407.20L774.66,407.20L774.86,418.73L775.05,404.05L775.25,423.57L775.64,418.73L775.83,393.62L776.03,418.73L776.62,383.77L776.81,407.20L777.20,418.73L777.59,395.96L777.79,401.15L778.57,423.57L778.77,414.47L779.16,393.62L779.55,429.15L779.74,410.65L780.13,435.76L780.53,389.36L780.72,404.05L781.31,395.96L781.50,398.46L781.70,401.15L781.89,398.46L782.09,407.20L782.48,398.46L782.68,398.46L783.46,429.15L783.65,404.05L784.04,389.36L784.44,435.76L784.63,407.20L784.83,418.73L785.22,393.62L785.41,410.65L785.61,393.62L786.19,423.57L786.39,414.47L786.59,404.05L786.78,414.47L787.37,414.47L787.56,401.15L788.15,443.84L788.34,443.84L788.54,398.46L788.74,395.96L789.13,435.76L789.32,414.47L789.52,401.15L789.71,410.65L789.91,389.36L790.30,407.20L790.49,407.20L790.89,414.47L791.28,395.96L791.47,414.47L792.25,393.62L792.45,395.96L792.64,429.15L793.23,404.05L793.43,401.15L793.82,387.40L794.01,435.76L794.21,435.76L794.40,418.73L794.79,407.20L794.99,429.15L795.19,407.20L795.38,401.15L795.58,385.54L796.16,410.65L796.36,407.20L796.75,418.73L797.14,389.36L797.34,410.65L797.73,398.46L798.12,414.47L798.31,423.57L798.51,393.62L799.09,410.65L799.29,393.62L799.88,414.47L800.07,398.46L800.27,404.05L800.46,418.73L801.05,391.43L801.24,429.15L801.44,389.36L802.03,429.15L802.22,393.62L802.81,389.36L803.00,401.15L803.20,423.57L803.98,393.62L804.18,385.54L804.57,414.47L804.96,401.15L805.15,404.05L805.35,387.40L805.54,414.47L805.94,410.65L806.13,401.15L806.33,429.15L806.91,395.96L807.11,398.46L807.30,414.47L807.50,387.40L807.89,410.65L808.09,414.47L808.28,391.43L808.48,418.73L808.87,401.15L809.06,414.47L809.45,391.43L809.65,423.57L809.84,404.05L810.04,423.57L810.63,393.62L810.82,393.62L811.02,404.05L811.21,418.73L811.80,383.77L811.99,407.20L812.19,393.62L812.39,423.57L812.78,418.73L812.97,389.36L813.17,383.77L813.75,414.47L813.95,410.65L814.34,443.84L814.73,389.36L814.93,393.62L815.12,410.65L815.71,404.05L815.90,395.96L816.10,401.15L816.49,393.62L816.69,395.96L816.88,407.20L817.47,398.46L817.66,410.65L817.86,401.15L818.25,407.20L818.44,398.46L818.64,407.20L818.84,414.47L819.23,418.73L819.62,393.62L819.81,398.46L820.01,410.65L820.59,387.40L820.79,398.46L821.18,423.57L821.57,407.20L821.77,407.20L822.35,410.65L822.55,395.96L822.74,410.65L823.33,395.96L823.53,429.15L823.72,410.65L824.11,389.36L824.31,414.47L824.50,404.05L824.70,418.73L824.89,395.96L825.48,401.15L825.68,423.57L826.26,398.46L826.46,407.20L826.65,389.36L826.85,404.05L827.24,383.77L827.44,404.05L827.63,398.46L827.83,429.15L828.41,393.62L828.61,423.57L829.00,383.77L829.39,429.15L829.59,389.36L830.17,385.54L830.37,454.26L830.56,401.15L830.76,393.62L831.15,423.57L831.34,398.46L831.54,404.05L831.74,410.65L832.32,389.36L832.52,401.15L832.71,435.76L832.91,393.62L833.30,395.96L833.49,418.73L833.69,429.15L833.89,393.62L834.28,410.65L834.47,407.20L834.67,395.96L835.06,418.73L835.25,407.20L835.45,414.47L835.84,407.20L836.23,414.47L836.43,404.05L836.82,418.73L837.21,395.96L837.40,398.46L837.60,391.43L838.19,414.47L838.38,423.57L838.58,443.84L838.97,401.15L839.16,407.20L839.36,410.65L839.55,401.15L839.95,418.73L840.14,407.20L840.34,401.15L840.53,423.57L841.12,398.46L841.31,407.20L841.70,395.96L842.10,398.46L842.29,389.36L842.49,423.57L843.07,389.36L843.27,407.20L843.46,404.05L843.66,418.73L844.05,410.65L844.25,443.84L844.83,385.54L845.03,410.65L845.22,391.43L845.81,423.57L846.00,401.15L846.20,418.73L846.98,395.96L847.18,401.15L847.76,407.20L847.96,387.40L848.15,391.43L848.74,423.57L848.94,418.73L849.13,423.57L849.91,393.62L850.11,398.46L850.50,389.36L850.89,404.05L851.09,391.43L851.67,423.57L851.87,414.47L852.06,418.73L852.65,391.43L852.85,395.96L853.04,407.20L853.82,391.43L854.02,423.57L854.21,398.46L854.80,423.57L855.00,435.76L855.58,385.54L855.78,404.05L855.97,423.57L856.36,393.62L856.75,401.15L856.95,414.47L857.34,383.77L857.73,398.46L857.93,398.46L858.12,410.65L858.32,383.77L858.71,401.15L858.90,393.62L859.49,410.65L859.69,410.65L859.88,414.47L860.47,435.76L860.66,401.15L860.86,429.15L861.64,393.62L861.84,383.77L862.03,423.57L862.62,410.65L862.81,423.57L863.20,401.15L863.40,150.09L863.40,516.00 Z" fill="rgba(144,238,144,0.2)" stroke="none"/>
<path d="M70.23,516.00L70.23,127.21L70.62,127.47L70.82,127.03L71.01,127.47L71.21,127.76L71.80,128.80L71.99,128.52L72.19,127.97L72.97,124.80L73.16,124.18L73.95,120.14L74.14,119.48L74.92,116.23L75.12,115.40L75.90,112.28L76.10,111.31L76.88,108.18L77.07,107.67L77.85,105.93L78.05,104.90L78.83,102.55L79.03,102.41L79.81,100.80L80.00,100.88L80.79,99.53L80.98,99.87L81.18,99.63L81.76,100.08L81.96,99.78L82.74,100.24L82.94,100.57L83.72,101.25L83.91,101.65L84.50,102.74L84.70,102.44L84.89,102.74L85.67,104.49L85.87,104.40L86.65,105.13L86.85,105.54L87.63,107.01L87.82,106.77L88.60,108.02L88.80,108.27L89.58,109.62L89.78,110.68L90.56,112.51L90.76,113.35L91.54,115.27L91.73,115.69L92.51,117.96L92.71,118.47L92.91,118.26L93.49,120.25L93.69,120.82L94.47,123.32L94.66,123.10L95.25,125.27L95.45,125.17L95.64,125.40L96.42,127.88L96.62,128.71L97.21,130.29L97.40,130.21L97.60,131.63L97.79,131.59L98.38,133.80L98.57,133.83L99.36,136.03L99.55,136.71L100.33,138.75L100.53,139.40L100.72,139.02L101.31,141.11L101.51,141.25L102.29,143.64L102.48,143.80L103.07,145.55L103.26,145.24L103.46,145.82L104.05,147.90L104.24,147.87L104.44,147.99L105.02,150.64L105.22,150.35L105.41,151.11L105.81,150.80L106.00,152.23L106.20,152.11L106.39,152.78L106.78,154.64L107.17,154.41L107.37,154.82L108.15,156.75L108.35,157.12L109.13,158.87L109.32,159.41L109.52,159.33L110.11,160.67L110.30,161.45L111.08,163.04L111.28,162.78L112.06,165.22L112.26,165.52L112.45,165.75L112.84,164.65L113.04,164.93L113.23,164.46L113.43,164.95L114.01,164.18L114.21,164.63L114.60,163.92L114.80,166.10L114.99,165.44L115.19,167.79L115.97,172.19L116.16,174.00L116.95,178.91L117.14,178.14L117.34,178.05L117.92,180.87L118.12,180.90L118.71,182.89L118.90,181.07L119.10,183.77L119.29,183.62L119.88,185.13L120.07,184.95L120.46,184.27L120.86,185.67L121.05,185.74L121.25,187.49L121.83,185.97L122.03,188.09L122.42,187.59L122.81,189.19L123.01,187.87L123.40,184.87L123.79,189.10L123.98,189.34L124.76,193.78L124.96,194.60L125.35,196.13L125.55,194.43L125.74,195.56L125.94,195.37L126.33,195.24L126.52,195.91L126.72,195.36L126.91,195.44L127.70,197.92L127.89,198.69L128.67,200.71L128.87,200.70L129.46,203.91L129.65,201.85L129.85,203.72L130.24,203.67L130.63,205.98L130.82,206.03L131.02,207.49L131.21,204.29L131.61,206.55L131.80,206.74L132.39,208.62L132.58,207.03L132.78,208.02L133.56,210.41L133.76,207.77L134.34,212.28L134.54,211.15L134.73,208.95L134.93,211.70L135.51,211.38L135.71,210.39L136.30,210.21L136.49,211.58L136.69,211.55L137.08,213.85L137.47,212.33L137.66,212.65L138.06,212.93L138.45,211.06L138.64,212.60L139.23,209.60L139.42,210.51L139.62,210.31L140.01,211.77L140.21,209.05L140.40,210.42L140.60,214.92L140.79,214.34L141.38,216.78L141.57,218.90L141.77,217.76L142.36,221.90L142.55,222.74L143.33,225.73L143.53,226.06L143.72,224.59L144.12,226.90L144.31,225.25L144.51,226.74L144.90,226.83L145.29,225.93L145.48,227.61L145.68,224.42L146.27,227.93L146.46,229.58L147.24,226.38L147.44,230.10L147.63,227.91L148.22,230.75L148.42,228.33L149.20,231.82L149.39,228.97L149.59,228.78L149.78,231.20L150.17,230.57L150.37,230.37L150.96,229.60L151.15,232.03L151.35,229.26L151.74,234.86L152.13,234.30L152.32,233.26L152.91,232.43L153.11,233.20L153.30,234.27L153.89,237.71L154.08,235.63L154.28,236.21L154.67,232.74L155.06,237.26L155.26,237.56L155.65,234.97L156.04,238.20L156.23,240.54L157.02,236.54L157.21,237.74L157.80,239.98L157.99,235.95L158.19,239.92L158.77,237.56L158.97,238.61L159.17,236.54L159.75,239.72L159.95,239.47L160.14,237.20L160.92,244.23L161.12,241.18L161.32,244.75L161.90,243.36L162.10,243.22L162.49,243.87L162.68,242.37L162.88,243.08L163.07,243.65L163.47,244.75L163.86,244.27L164.05,240.94L164.44,247.49L164.83,245.01L165.03,244.97L165.22,240.91L165.81,246.34L166.01,248.30L166.20,244.90L166.79,245.76L166.98,250.36L167.37,245.80L167.77,246.42L167.96,247.65L168.55,246.54L168.74,250.93L168.94,247.89L169.52,252.19L169.72,247.53L169.92,253.16L170.31,249.29L170.70,249.29L170.89,248.92L171.28,245.92L171.48,252.09L171.67,250.93L171.87,249.55L172.07,252.74L172.26,248.05L172.65,250.28L172.85,249.93L173.24,246.73L173.63,251.06L173.82,245.69L174.41,249.59L174.61,249.25L174.80,247.21L175.00,243.83L175.39,247.77L175.58,246.69L175.78,247.65L175.97,247.37L176.56,251.02L176.76,248.58L177.15,255.13L177.54,250.97L177.73,252.55L177.93,257.91L178.52,253.30L178.71,258.34L179.30,251.46L179.49,255.33L179.69,253.82L179.88,258.28L180.08,251.06L180.47,255.88L180.67,254.88L181.45,257.85L181.64,256.91L182.03,257.75L182.23,254.54L182.42,256.85L182.62,256.44L182.82,256.39L183.40,258.55L183.60,256.44L183.79,260.97L183.99,255.68L184.38,260.45L184.57,257.11L185.16,256.29L185.36,260.57L185.55,257.06L185.75,255.28L186.33,258.66L186.53,257.59L186.72,257.11L187.12,258.66L187.31,258.12L187.51,259.21L187.70,260.62L187.90,254.69L188.29,258.99L188.48,258.77L188.68,256.13L189.27,257.48L189.46,255.43L189.66,253.16L189.85,256.80L190.24,253.39L190.44,254.49L190.63,250.71L191.22,251.33L191.42,251.91L192.00,256.08L192.20,255.13L192.39,254.01L192.59,252.69L193.17,256.54L193.37,256.60L193.96,261.97L194.15,259.94L194.35,256.70L194.74,260.51L194.93,253.44L195.13,255.28L195.32,256.03L196.11,252.00L196.30,253.68L196.50,255.28L196.89,249.04L197.08,254.69L197.28,255.73L197.48,251.51L198.06,259.43L198.26,259.21L199.04,265.35L199.23,262.33L200.02,269.97L200.21,266.62L200.41,265.88L200.60,269.74L200.99,266.02L201.19,268.36L201.38,264.00L201.97,268.72L202.17,265.62L202.75,268.94L202.95,267.38L203.14,268.87L203.34,268.51L203.73,271.03L203.93,269.67L204.12,270.12L204.90,267.38L205.10,271.10L205.29,267.31L205.88,270.57L206.08,270.87L206.47,269.16L206.66,273.57L206.86,271.65L207.05,269.89L207.44,268.94L207.64,275.00L207.83,272.43L208.03,268.44L208.81,274.15L209.01,272.59L209.20,276.39L209.40,272.28L209.79,272.92L209.98,272.20L210.18,270.34L210.38,272.68L210.77,270.49L210.96,271.18L211.35,274.40L211.74,271.88L211.94,271.18L212.33,278.98L212.72,275.78L212.92,274.49L213.31,275.25L213.50,272.12L213.70,273.24L213.89,274.23L214.48,272.12L214.68,276.22L214.87,273.98L215.07,270.19L215.46,276.84L215.65,272.43L215.85,273.32L216.24,273.24L216.63,276.66L216.83,275.25L217.41,277.48L217.61,277.11L217.80,272.59L218.00,278.69L218.58,275.25L218.78,275.60L218.98,277.94L219.37,273.49L219.56,277.66L219.76,276.84L220.15,273.08L220.54,280.14L220.73,274.83L221.32,279.75L221.52,279.65L221.71,273.16L222.10,278.13L222.49,270.95L222.69,277.66L222.88,280.74L223.28,274.07L223.47,277.85L223.67,272.76L224.06,272.43L224.25,280.84L224.45,275.78L224.64,276.57L225.03,279.46L225.43,271.57L225.62,278.69L225.82,281.14L226.01,274.91L226.40,276.22L226.60,278.41L226.79,279.07L226.99,274.32L227.38,277.94L227.58,278.88L227.77,278.98L227.97,273.49L228.36,276.48L228.55,279.75L228.75,280.34L229.33,273.98L229.53,279.94L229.73,275.34L230.31,276.48L230.51,278.98L230.70,279.65L230.90,278.03L231.29,278.88L231.48,278.98L231.68,276.93L232.07,279.65L232.27,277.66L232.46,276.66L233.24,283.34L233.44,285.22L234.03,280.34L234.22,281.86L234.42,282.28L235.00,277.39L235.20,285.56L235.39,281.14L235.59,279.75L235.78,283.66L236.18,283.34L236.37,283.55L236.57,280.54L236.76,289.56L237.15,286.14L237.35,281.96L238.13,286.61L238.33,283.99L238.52,281.86L238.91,286.14L239.11,281.86L239.30,281.45L239.50,288.67L240.08,284.10L240.28,289.30L240.48,282.91L241.06,288.80L241.26,287.56L241.84,283.12L242.04,284.54L242.23,286.73L242.82,284.10L243.02,289.17L243.21,288.80L243.60,284.77L243.99,290.60L244.19,289.17L244.38,281.86L244.97,288.18L245.17,289.43L245.95,284.21L246.14,285.68L246.53,291.94L246.93,284.77L247.12,288.30L247.51,287.56L247.90,289.81L248.10,283.99L248.88,289.43L249.08,290.86L249.27,291.53L249.47,284.88L249.86,286.37L250.05,285.56L250.44,291.13L250.84,288.42L251.03,289.81L251.42,285.68L251.81,286.49L252.01,291.53L252.20,285.33L252.79,286.37L252.99,287.69L253.38,293.19L253.57,284.88L253.77,285.11L253.96,287.32L254.16,286.14L254.74,290.86L254.94,286.49L255.72,289.30L255.92,287.32L256.11,289.56L256.70,286.49L256.89,288.67L257.29,289.94L257.68,284.99L257.87,285.91L258.26,292.21L258.65,286.84L258.85,289.94L259.04,293.62L259.24,286.73L259.63,290.73L259.83,284.77L260.61,290.33L260.80,285.22L261.19,292.07L261.59,291.53L261.78,290.73L261.98,288.67L262.37,292.63L262.56,289.94L262.76,288.80L262.95,284.32L263.15,289.05L263.54,285.91L263.74,285.45L263.93,280.74L264.52,282.28L264.71,284.99L265.30,294.19L265.49,289.56L265.69,293.47L265.89,289.43L266.08,294.05L266.47,291.39L266.67,290.73L266.86,298.35L267.06,290.60L267.45,292.63L267.64,290.73L267.84,290.07L268.04,292.77L268.43,291.26L268.62,289.30L268.82,287.20L269.40,300.02L269.60,296.91L270.19,287.32L270.38,291.13L270.58,289.56L270.77,297.54L271.16,287.69L271.36,292.91L271.55,290.07L271.75,289.30L272.34,297.86L272.53,290.20L272.73,290.46L273.31,287.44L273.51,299.85L274.09,290.20L274.29,290.20L274.49,296.14L274.68,297.86L275.27,286.84L275.46,287.93L275.66,291.26L276.24,287.69L276.44,287.93L276.64,287.08L276.83,293.05L277.22,291.80L277.42,291.80L277.81,290.99L278.20,296.75L278.39,291.26L279.18,297.38L279.37,297.54L279.57,300.02L279.96,294.19L280.15,296.29L280.35,295.08L280.74,292.63L281.13,295.98L281.33,293.05L281.52,298.51L282.11,291.26L282.30,293.33L282.69,299.68L283.09,291.53L283.28,298.51L284.06,293.76L284.26,294.63L284.45,302.86L284.65,291.39L285.04,295.98L285.24,298.19L285.43,299.51L286.02,295.83L286.21,296.14L286.60,298.51L286.80,291.39L286.99,293.76L287.19,294.34L287.39,293.05L287.78,300.19L287.97,299.85L288.17,294.78L288.56,302.13L288.75,291.94L288.95,293.19L289.14,293.76L289.93,297.54L290.12,294.93L290.32,304.18L290.71,294.34L290.90,298.84L291.10,291.66L291.69,299.18L291.88,294.78L292.08,297.54L292.47,296.29L292.66,302.13L292.86,300.71L293.05,299.01L293.25,293.90L293.44,299.68L293.84,298.68L294.03,299.18L294.81,304.57L295.01,297.70L295.59,305.75L295.79,293.19L295.99,293.33L296.57,302.13L296.77,299.51L296.96,295.53L297.16,308.02L297.74,298.19L297.94,301.06L298.14,299.51L298.72,299.51L298.92,299.51L299.31,299.18L299.70,301.06L299.89,298.35L300.29,300.02L300.68,295.98L300.87,302.31L301.07,298.19L301.65,305.15L301.85,303.23L302.24,304.76L302.63,296.91L302.83,297.23L303.02,296.44L303.41,301.77L303.61,300.88L303.80,295.38L304.00,299.01L304.59,296.91L304.78,297.86L305.37,299.34L305.56,293.62L305.76,295.08L306.35,301.77L306.54,290.73L306.74,305.15L306.93,292.77L307.52,296.60L307.71,294.49L307.91,300.88L308.50,298.84L308.69,298.35L308.89,297.38L309.47,302.31L309.67,295.23L310.25,301.24L310.45,299.51L310.65,305.75L310.84,298.51L311.43,300.36L311.62,297.23L311.82,303.80L312.01,293.19L312.40,301.06L312.60,302.31L312.80,305.15L313.19,299.34L313.38,302.13L313.58,301.59L313.77,297.70L314.36,306.35L314.55,304.96L314.95,298.68L315.34,300.54L315.53,306.35L315.73,298.84L316.31,307.81L316.51,304.18L316.90,298.19L317.10,309.10L317.29,300.19L317.49,303.80L317.88,300.36L318.07,309.76L318.27,302.86L318.46,308.66L319.05,296.91L319.25,303.61L319.44,302.68L320.03,297.23L320.22,308.23L320.42,298.84L320.81,305.75L321.20,298.51L321.40,304.18L321.59,308.02L322.18,295.53L322.37,299.34L322.96,306.56L323.15,297.38L323.35,303.42L323.55,298.35L324.13,300.54L324.33,298.03L324.52,297.38L324.91,302.50L325.11,300.88L325.30,299.34L325.70,296.29L326.09,304.57L326.28,302.68L326.48,297.70L326.87,307.81L327.06,300.71L327.26,300.19L327.65,297.23L327.85,300.71L328.04,298.84L328.24,299.68L328.43,302.31L328.63,294.05L329.02,298.51L329.21,305.75L329.80,298.51L330.00,303.23L330.19,295.83L330.39,293.33L330.58,300.88L330.97,300.71L331.17,302.50L331.75,297.70L331.95,301.41L332.15,302.13L332.34,298.68L332.93,300.19L333.12,301.59L333.32,303.05L333.51,294.63L333.90,300.54L334.10,305.95L334.49,298.51L334.88,303.23L335.08,298.19L335.47,297.23L335.86,303.61L336.05,305.95L336.25,301.59L336.84,308.88L337.03,313.78L337.42,307.81L337.81,311.36L338.01,315.57L338.20,308.88L338.40,321.24L338.79,318.30L338.99,313.78L339.18,312.31L339.77,320.04L339.96,320.64L340.75,329.87L340.94,321.24L341.53,320.94L341.72,331.87L341.92,331.46L342.11,322.81L342.50,333.56L342.70,324.45L342.90,334.43L343.29,330.26L343.48,342.29L343.68,338.15L343.87,333.13L344.07,327.24L344.46,334.87L344.65,327.60L344.85,326.52L345.24,336.71L345.44,325.47L345.63,325.82L345.83,328.72L346.41,339.65L346.61,329.10L346.80,333.13L347.20,330.66L347.59,336.71L347.78,339.14L347.98,323.46L348.56,341.75L348.76,335.32L349.15,326.17L349.54,346.97L349.74,333.99L350.13,342.29L350.52,330.66L350.71,332.70L351.30,330.26L351.50,340.68L351.69,338.15L351.89,330.66L352.08,340.68L352.47,340.16L352.67,334.43L352.86,343.41L353.45,333.99L353.65,346.97L354.23,334.43L354.43,341.75L354.62,332.70L354.82,345.15L355.40,343.41L355.60,342.84L355.80,334.87L356.38,348.90L356.58,331.06L357.36,350.24L357.56,339.65L357.75,333.56L357.95,347.60L358.34,345.15L358.53,335.32L358.92,352.35L359.12,334.43L359.31,342.29L359.51,339.14L360.10,338.15L360.29,345.74L360.49,361.35L360.88,336.24L361.27,353.83L361.46,343.41L361.66,337.66L362.25,341.21L362.44,349.56L362.64,338.64L362.83,356.98L363.22,339.14L363.42,339.14L363.61,347.60L364.20,340.16L364.40,343.41L364.59,345.15L365.18,333.13L365.37,341.21L365.76,345.74L365.96,334.87L366.16,340.16L366.35,349.56L366.74,338.15L367.13,345.74L367.33,342.29L367.72,348.24L367.91,340.68L368.11,346.35L368.31,349.56L368.50,338.15L368.89,351.63L369.09,346.35L369.28,345.15L369.67,336.24L370.06,343.98L370.26,336.24L370.46,329.48L370.85,347.60L371.04,331.87L371.24,333.56L372.02,347.60L372.21,339.14L372.41,349.56L373.00,335.78L373.19,343.41L373.58,350.24L373.97,334.43L374.17,340.68L374.36,334.43L374.95,344.56L375.15,337.66L375.34,332.28L375.54,339.65L375.93,335.78L376.12,343.41L376.32,336.71L376.91,346.97L377.10,331.87L377.30,338.64L377.88,336.24L378.08,327.97L378.27,338.64L378.86,327.60L379.06,333.13L379.25,334.43L379.84,323.46L380.03,328.72L380.42,316.37L380.62,333.13L380.81,320.64L381.01,323.13L381.21,332.28L381.79,327.60L381.99,319.74L382.57,306.76L382.77,315.05L382.96,309.99L383.75,304.57L383.94,300.36L384.53,288.05L384.72,288.30L384.92,289.30L385.11,282.91L385.70,285.33L385.90,285.68L386.48,297.23L386.68,289.43L386.87,292.35L387.66,313.28L387.85,316.64L388.63,329.87L388.83,329.48L389.41,338.64L389.61,337.18L389.81,338.15L390.59,351.63L390.78,348.90L391.17,337.66L391.37,354.59L391.56,350.93L391.76,350.24L392.15,342.29L392.35,355.37L392.54,347.60L392.74,367.40L393.13,352.35L393.52,353.08L393.71,352.35L393.91,347.60L394.30,356.17L394.50,356.17L394.69,353.08L394.89,345.74L395.08,365.27L395.47,353.83L395.67,362.29L396.06,354.59L396.45,354.59L396.65,348.90L396.84,360.43L397.43,360.43L397.62,351.63L397.82,364.25L398.41,356.17L398.60,366.32L398.80,359.54L399.38,365.27L399.58,355.37L399.77,349.56L400.36,373.35L400.56,366.32L400.75,370.85L400.95,353.08L401.34,363.26L401.53,373.35L401.92,356.17L402.31,361.35L402.51,359.54L402.90,378.94L403.29,355.37L403.49,350.93L404.27,367.40L404.46,368.52L405.25,350.24L405.44,362.29L405.83,345.74L406.22,370.85L406.42,352.35L406.61,362.29L406.81,348.90L407.20,350.24L407.40,342.29L407.59,366.32L408.18,357.81L408.37,361.35L408.96,348.90L409.16,350.93L409.35,354.59L409.55,345.15L410.13,352.35L410.33,344.56L410.52,343.41L410.72,353.83L411.11,349.56L411.31,336.24L411.50,350.93L412.09,337.66L412.28,331.46L412.48,341.75L412.87,329.10L413.07,329.87L413.26,335.78L413.46,320.94L414.04,327.60L414.24,320.04L414.43,315.84L414.63,330.26L415.02,327.24L415.22,330.66L415.41,323.13L415.61,335.78L416.00,329.87L416.19,341.21L416.78,337.66L416.97,345.74L417.17,350.24L417.37,344.56L417.76,357.81L417.95,345.74L418.15,367.40L418.73,353.08L418.93,364.25L419.12,368.52L419.52,354.59L419.91,380.48L420.10,362.29L420.49,357.81L420.69,370.85L420.88,367.40L421.08,359.54L421.67,352.35L421.86,367.40L422.06,364.25L422.25,382.09L422.84,359.54L423.03,354.59L423.62,373.35L423.82,372.08L424.01,360.43L424.21,391.43L424.79,374.67L424.99,354.59L425.38,380.48L425.77,359.54L425.97,356.98L426.55,368.52L426.75,362.29L426.94,365.27L427.53,369.67L427.72,352.35L427.92,352.35L428.12,383.77L428.70,364.25L428.90,365.27L429.09,356.17L429.68,368.52L429.87,355.37L430.07,353.08L430.66,374.67L430.85,370.85L431.05,357.81L431.63,366.32L431.83,372.08L432.02,368.52L432.42,378.94L432.61,369.67L432.81,355.37L433.20,366.32L433.59,360.43L433.78,361.35L434.17,376.04L434.37,356.98L434.57,369.67L434.76,377.46L435.15,358.66L435.54,362.29L435.74,361.35L436.32,356.17L436.52,383.77L436.72,359.54L436.91,358.66L437.30,372.08L437.50,361.35L437.69,362.29L437.89,387.40L438.08,356.98L438.47,369.67L438.67,374.67L439.06,361.35L439.26,380.48L439.45,378.94L439.65,360.43L440.04,378.94L440.23,358.66L440.43,372.08L440.62,357.81L441.41,380.48L441.60,382.09L441.80,395.96L442.19,366.32L442.38,368.52L442.58,366.32L442.77,387.40L443.36,372.08L443.56,393.62L443.95,398.46L444.14,365.27L444.34,374.67L444.53,354.59L445.12,389.36L445.32,374.67L445.51,356.98L446.10,378.94L446.29,372.08L446.49,372.08L446.88,353.08L447.07,376.04L447.27,374.67L447.47,377.46L448.05,398.46L448.25,353.83L448.44,387.40L448.83,367.40L449.22,370.85L449.42,391.43L449.62,367.40L450.20,389.36L450.40,365.27L450.79,356.17L451.18,378.94L451.37,368.52L451.57,353.83L452.16,374.67L452.35,360.43L452.55,359.54L452.94,374.67L453.13,369.67L453.33,377.46L453.92,356.17L454.11,370.85L454.31,374.67L454.50,385.54L454.89,370.85L455.09,374.67L455.28,369.67L455.48,370.85L455.67,362.29L456.07,365.27L456.26,369.67L456.46,376.04L456.85,368.52L457.04,369.67L457.24,369.67L457.43,366.32L457.82,370.85L458.02,367.40L458.22,376.04L458.41,377.46L458.80,361.35L459.00,366.32L459.19,380.48L459.39,389.36L459.78,366.32L459.97,387.40L460.17,378.94L460.56,369.67L460.76,380.48L460.95,372.08L461.15,378.94L461.34,369.67L461.93,393.62L462.12,377.46L462.52,374.67L462.71,383.77L462.91,377.46L463.10,370.85L463.30,367.40L463.88,382.09L464.08,374.67L464.28,383.77L464.47,364.25L464.86,377.46L465.06,385.54L465.25,376.04L465.84,377.46L466.03,369.67L466.43,367.40L466.62,389.36L466.82,377.46L467.01,383.77L467.60,374.67L467.79,395.96L467.99,358.66L468.77,391.43L468.97,383.77L469.36,370.85L469.55,389.36L469.75,383.77L469.94,364.25L470.53,383.77L470.73,368.52L470.92,372.08L471.12,380.48L471.51,370.85L471.70,378.94L471.90,365.27L472.29,376.04L472.68,373.35L472.88,364.25L473.46,387.40L473.66,373.35L473.85,374.67L474.05,382.09L474.24,362.29L474.63,362.29L474.83,369.67L475.42,380.48L475.61,378.94L475.81,376.04L476.00,362.29L476.59,378.94L476.78,389.36L477.18,393.62L477.37,370.85L477.57,383.77L477.76,389.36L478.54,373.35L478.74,372.08L478.93,382.09L479.52,366.32L479.72,366.32L479.91,385.54L480.50,380.48L480.69,382.09L480.89,387.40L481.28,370.85L481.48,385.54L481.67,380.48L481.87,383.77L482.06,372.08L482.45,374.67L482.65,374.67L483.23,368.52L483.43,385.54L483.63,389.36L484.21,367.40L484.41,398.46L484.60,372.08L484.99,387.40L485.38,380.48L485.58,389.36L486.36,367.40L486.56,383.77L486.75,372.08L487.14,385.54L487.34,378.94L487.53,393.62L488.12,372.08L488.32,387.40L488.51,373.35L488.90,393.62L489.29,362.29L489.49,383.77L489.68,377.46L490.27,377.46L490.47,377.46L490.66,376.04L491.05,389.36L491.25,378.94L491.44,378.94L491.83,372.08L492.03,389.36L492.23,377.46L492.42,377.46L492.62,373.35L492.81,387.40L493.20,377.46L493.40,372.08L493.79,385.54L494.18,383.77L494.38,365.27L494.96,395.96L495.16,376.04L495.35,370.85L495.55,380.48L495.74,368.52L496.13,374.67L496.33,377.46L496.53,391.43L496.92,369.67L497.11,383.77L497.31,367.40L497.70,387.40L498.09,385.54L498.28,389.36L498.68,373.35L498.87,391.43L499.07,380.48L499.26,370.85L499.46,391.43L500.04,387.40L500.24,389.36L500.83,370.85L501.02,382.09L501.22,373.35L502.00,378.94L502.19,383.77L502.58,404.05L502.98,366.32L503.17,370.85L503.56,389.36L503.76,369.67L503.95,373.35L504.15,398.46L504.93,376.04L505.13,378.94L505.32,387.40L505.91,369.67L506.10,389.36L506.30,370.85L506.88,383.77L507.08,380.48L507.28,374.67L507.86,404.05L508.06,377.46L508.45,387.40L508.84,376.04L509.03,393.62L509.82,366.32L510.01,372.08L510.40,401.15L510.79,378.94L510.99,373.35L511.58,378.94L511.77,368.52L511.97,389.36L512.36,372.08L512.75,404.05L512.94,373.35L513.14,404.05L513.33,366.32L513.73,377.46L513.92,387.40L514.51,376.04L514.70,378.94L514.90,373.35L515.29,382.09L515.48,369.67L515.68,382.09L515.88,376.04L516.07,370.85L516.66,382.09L516.85,398.46L517.44,373.35L517.64,374.67L517.83,374.67L518.03,383.77L518.61,380.48L518.81,378.94L519.59,398.46L519.79,385.54L520.18,378.94L520.37,391.43L520.57,391.43L520.76,374.67L520.96,389.36L521.54,372.08L521.74,387.40L522.13,368.52L522.33,395.96L522.52,385.54L522.72,385.54L523.11,395.96L523.30,378.94L523.50,393.62L523.69,391.43L523.89,395.96L524.09,374.67L524.48,380.48L524.67,376.04L524.87,391.43L525.45,382.09L525.65,380.48L526.04,389.36L526.24,370.85L526.43,383.77L526.63,395.96L526.82,369.67L527.41,385.54L527.60,387.40L527.80,376.04L528.39,380.48L528.58,380.48L528.97,376.04L529.17,398.46L529.36,378.94L529.56,398.46L529.75,385.54L529.95,404.05L530.34,389.36L530.54,382.09L530.73,378.94L531.12,398.46L531.32,382.09L531.51,393.62L532.10,376.04L532.29,398.46L532.49,393.62L532.69,377.46L532.88,410.65L533.27,387.40L533.47,389.36L534.25,378.94L534.44,385.54L534.64,374.67L534.84,389.36L535.23,383.77L535.42,373.35L535.62,363.26L535.81,393.62L536.20,378.94L536.40,398.46L536.59,377.46L537.18,377.46L537.38,387.40L537.96,376.04L538.16,385.54L538.35,380.48L538.55,387.40L538.74,376.04L539.14,380.48L539.33,387.40L539.53,369.67L540.11,380.48L540.31,383.77L540.70,398.46L541.09,383.77L541.29,380.48L541.68,382.09L541.87,366.32L542.07,382.09L542.26,377.46L542.46,374.67L543.04,423.57L543.24,376.04L543.63,385.54L544.02,382.09L544.22,389.36L544.61,404.05L544.80,374.67L545.00,376.04L545.19,380.48L545.59,373.35L545.78,383.77L545.98,382.09L546.17,368.52L546.37,398.46L546.95,364.25L547.15,382.09L547.34,383.77L547.54,370.85L547.93,372.08L548.13,382.09L548.52,370.85L548.91,395.96L549.10,393.62L549.49,398.46L549.69,374.67L549.89,377.46L550.08,393.62L550.47,374.67L550.86,382.09L551.06,398.46L551.64,374.67L551.84,377.46L552.04,391.43L552.82,376.04L553.01,380.48L553.40,393.62L553.79,387.40L553.99,389.36L554.19,367.40L554.77,389.36L554.97,378.94L555.16,398.46L555.75,376.04L555.94,389.36L556.14,391.43L556.34,380.48L556.73,387.40L556.92,370.85L557.70,385.54L557.90,391.43L558.09,398.46L558.49,377.46L558.68,382.09L558.88,385.54L559.27,398.46L559.46,374.67L559.66,395.96L559.85,391.43L560.44,372.08L560.64,383.77L560.83,395.96L561.03,376.04L561.61,385.54L561.81,378.94L562.20,404.05L562.59,398.46L562.79,383.77L562.98,378.94L563.37,391.43L563.57,391.43L563.76,387.40L563.96,369.67L564.54,378.94L564.74,395.96L564.94,372.08L565.13,407.20L565.52,377.46L565.72,380.48L566.11,393.62L566.50,376.04L566.69,383.77L567.48,378.94L567.67,391.43L568.06,377.46L568.45,380.48L568.65,393.62L568.84,369.67L569.04,401.15L569.43,378.94L569.63,383.77L569.82,398.46L570.21,380.48L570.41,398.46L570.60,385.54L571.19,373.35L571.39,389.36L571.58,389.36L571.97,378.94L572.36,393.62L572.56,369.67L573.15,385.54L573.34,383.77L573.54,378.94L574.32,398.46L574.51,395.96L574.90,377.46L575.30,378.94L575.49,395.96L575.88,374.67L576.27,407.20L576.47,389.36L576.66,374.67L577.25,385.54L577.45,382.09L577.64,393.62L578.03,373.35L578.23,391.43L578.42,387.40L578.62,382.09L579.20,393.62L579.40,393.62L580.18,377.46L580.38,389.36L580.57,393.62L580.96,380.48L581.16,391.43L581.35,387.40L581.55,383.77L582.14,391.43L582.33,391.43L582.92,382.09L583.11,395.96L583.31,404.05L583.70,423.57L583.90,389.36L584.09,391.43L584.29,395.96L584.48,401.15L584.68,380.48L585.07,398.46L585.26,391.43L585.65,398.46L586.05,393.62L586.24,429.15L586.44,385.54L587.02,395.96L587.22,410.65L587.41,382.09L587.80,423.57L588.00,410.65L588.20,410.65L588.59,391.43L588.98,404.05L589.17,410.65L589.56,407.20L589.95,429.15L590.15,393.62L590.35,423.57L590.74,389.36L590.93,398.46L591.13,404.05L591.32,443.84L591.71,389.36L591.91,414.47L592.10,407.20L592.69,395.96L592.89,429.15L593.08,410.65L593.28,391.43L593.67,418.73L593.86,410.65L594.06,404.05L594.45,423.57L594.84,410.65L595.04,398.46L595.43,435.76L595.82,410.65L596.01,389.36L596.21,414.47L596.80,410.65L596.99,418.73L597.58,391.43L597.77,404.05L597.97,404.05L598.36,418.73L598.55,391.43L598.75,410.65L598.95,423.57L599.14,395.96L599.73,414.47L599.92,407.20L600.12,404.05L600.31,418.73L600.70,404.05L600.90,414.47L601.49,389.36L601.68,429.15L601.88,404.05L602.46,429.15L602.66,393.62L602.85,414.47L603.05,389.36L603.25,429.15L603.64,423.57L603.83,404.05L604.42,393.62L604.61,418.73L604.81,418.73L605.00,407.20L605.59,429.15L605.79,414.47L606.57,395.96L606.76,407.20L607.15,418.73L607.55,389.36L607.74,423.57L607.94,398.46L608.52,407.20L608.72,395.96L609.30,435.76L609.50,410.65L609.70,407.20L609.89,398.46L610.28,414.47L610.48,407.20L610.67,391.43L611.26,429.15L611.45,414.47L611.65,414.47L611.85,401.15L612.24,443.84L612.43,423.57L612.63,401.15L613.02,443.84L613.41,410.65L613.60,393.62L614.00,435.76L614.39,414.47L614.58,393.62L615.17,435.76L615.36,423.57L615.56,418.73L616.15,401.15L616.34,404.05L616.54,429.15L617.12,391.43L617.32,435.76L617.51,418.73L617.71,435.76L617.90,414.47L618.30,423.57L618.49,404.05L618.69,393.62L619.08,423.57L619.27,407.20L619.47,414.47L619.86,398.46L620.05,423.57L620.25,423.57L620.45,423.57L620.84,395.96L621.23,414.47L621.42,418.73L621.81,435.76L622.01,401.15L622.20,404.05L622.40,418.73L622.79,401.15L623.18,414.47L623.38,407.20L623.57,398.46L624.16,414.47L624.36,410.65L624.75,398.46L624.94,414.47L625.14,414.47L625.33,418.73L625.72,401.15L626.11,435.76L626.31,404.05L626.70,398.46L627.09,429.15L627.29,418.73L627.48,429.15L627.68,404.05L628.07,423.57L628.26,410.65L628.46,443.84L628.85,398.46L629.05,429.15L629.24,404.05L629.63,435.76L630.02,404.05L630.22,395.96L630.61,443.84L631.00,414.47L631.20,401.15L631.98,389.36L632.17,423.57L632.37,389.36L632.96,393.62L633.15,418.73L633.74,398.46L633.93,404.05L634.13,407.20L634.32,418.73L634.91,377.46L635.11,393.62L635.69,376.04L635.89,395.96L636.08,373.35L636.67,418.73L636.86,401.15L637.06,387.40L637.45,378.94L637.84,391.43L638.04,398.46L638.82,387.40L639.01,404.05L639.21,391.43L639.80,393.62L639.99,391.43L640.38,404.05L640.77,393.62L640.97,404.05L641.36,401.15L641.56,418.73L641.75,404.05L641.95,393.62L642.53,423.57L642.73,393.62L642.92,398.46L643.31,393.62L643.71,435.76L643.90,410.65L644.10,393.62L644.68,429.15L644.88,404.05L645.07,393.62L645.66,435.76L645.86,418.73L646.05,435.76L646.44,395.96L646.64,423.57L646.83,410.65L647.22,404.05L647.42,423.57L647.61,414.47L647.81,398.46L648.59,454.26L648.79,407.20L648.98,443.84L649.57,418.73L649.76,401.15L649.96,414.47L650.16,391.43L650.55,407.20L650.74,435.76L651.52,407.20L651.72,404.05L651.91,423.57L652.50,398.46L652.70,435.76L653.09,401.15L653.48,429.15L653.67,423.57L653.87,398.46L654.46,443.84L654.65,410.65L655.04,435.76L655.43,418.73L655.63,401.15L655.82,414.47L656.41,410.65L656.61,429.15L657.00,435.76L657.39,407.20L657.58,423.57L657.78,404.05L658.17,435.76L658.36,407.20L658.56,414.47L658.95,401.15L659.15,429.15L659.34,410.65L659.54,414.47L660.12,393.62L660.32,468.95L660.51,414.47L660.71,429.15L661.30,404.05L661.49,410.65L661.69,401.15L661.88,423.57L662.27,410.65L662.47,404.05L662.86,443.84L663.25,401.15L663.45,391.43L663.64,435.76L664.23,404.05L664.42,398.46L665.21,435.76L665.40,418.73L665.79,395.96L666.18,407.20L666.38,407.20L666.96,398.46L667.16,414.47L667.36,410.65L667.94,429.15L668.14,410.65L668.33,407.20L668.53,410.65L668.92,401.15L669.11,407.20L669.31,398.46L669.70,423.57L670.09,423.57L670.29,418.73L670.48,407.20L671.07,423.57L671.26,418.73L671.66,435.76L671.85,398.46L672.05,407.20L672.24,418.73L672.63,429.15L673.02,407.20L673.22,423.57L674.00,404.05L674.20,423.57L674.39,414.47L674.78,435.76L674.98,429.15L675.17,407.20L675.37,429.15L675.56,398.46L675.96,418.73L676.15,414.47L676.35,407.20L676.74,429.15L676.93,429.15L677.13,423.57L677.72,395.96L677.91,401.15L678.11,410.65L678.30,418.73L678.69,404.05L678.89,410.65L679.08,414.47L679.28,418.73L679.87,391.43L680.06,423.57L680.26,429.15L680.45,404.05L680.84,404.05L681.04,404.05L681.43,395.96L681.82,435.76L682.02,395.96L682.21,410.65L682.41,393.62L682.80,410.65L682.99,435.76L683.38,401.15L683.77,407.20L683.97,429.15L684.17,443.84L684.36,398.46L684.75,407.20L684.95,401.15L685.73,429.15L685.92,418.73L686.12,435.76L686.51,393.62L686.71,401.15L686.90,429.15L687.68,393.62L687.88,418.73L688.07,429.15L688.27,404.05L688.66,407.20L688.86,414.47L689.44,435.76L689.64,389.36L689.83,423.57L690.03,398.46L690.42,443.84L690.62,423.57L690.81,418.73L691.20,468.95L691.40,398.46L691.59,414.47L691.79,401.15L691.98,435.76L692.37,395.96L692.57,410.65L692.77,414.47L693.55,398.46L693.74,407.20L694.33,494.06L694.52,429.15L694.72,418.73L694.92,398.46L695.31,435.76L695.50,418.73L695.70,414.47L696.09,429.15L696.48,395.96L696.67,393.62L696.87,423.57L697.46,407.20L697.65,418.73L698.43,401.15L698.63,414.47L698.82,429.15L699.22,398.46L699.41,404.05L699.61,410.65L699.80,404.05L700.39,429.15L700.58,423.57L701.17,393.62L701.37,418.73L701.56,454.26L702.15,404.05L702.34,404.05L702.54,429.15L702.93,398.46L703.32,410.65L703.52,423.57L703.71,398.46L704.30,418.73L704.49,407.20L704.88,423.57L705.27,395.96L705.47,414.47L705.67,401.15L706.25,407.20L706.45,418.73L706.64,401.15L707.23,401.15L707.42,418.73L707.62,410.65L707.82,429.15L708.21,414.47L708.40,407.20L708.79,435.76L709.18,393.62L709.38,404.05L709.97,395.96L710.16,429.15L710.36,401.15L711.14,443.84L711.33,398.46L711.53,443.84L712.12,423.57L712.31,443.84L712.70,414.47L713.09,454.26L713.29,398.46L713.48,429.15L714.07,418.73L714.27,423.57L714.66,401.15L715.05,407.20L715.24,418.73L716.02,393.62L716.22,414.47L716.42,401.15L716.81,423.57L717.00,407.20L717.20,410.65L717.39,435.76L717.98,404.05L718.17,414.47L718.37,393.62L718.57,429.15L718.96,423.57L719.15,407.20L719.54,454.26L719.93,395.96L720.13,407.20L720.72,423.57L720.91,404.05L721.11,429.15L721.50,401.15L721.89,423.57L722.08,429.15L722.67,391.43L722.87,410.65L723.06,401.15L723.26,435.76L723.84,398.46L724.04,435.76L724.82,404.05L725.02,410.65L725.21,435.76L725.80,410.65L725.99,414.47L726.19,407.20L726.38,423.57L726.77,418.73L726.97,410.65L727.36,401.15L727.75,435.76L727.95,404.05L728.73,435.76L728.92,418.73L729.32,429.15L729.71,401.15L729.90,435.76L730.10,395.96L730.68,414.47L730.88,418.73L731.27,429.15L731.47,393.62L731.66,429.15L731.86,398.46L732.44,429.15L732.64,418.73L732.83,414.47L733.23,391.43L733.62,423.57L733.81,429.15L734.20,407.20L734.40,435.76L734.59,407.20L734.79,410.65L734.98,454.26L735.57,391.43L735.77,407.20L735.96,398.46L736.35,414.47L736.55,398.46L736.74,423.57L737.33,435.76L737.53,407.20L737.72,407.20L738.31,429.15L738.50,401.15L738.70,401.15L739.09,423.57L739.48,418.73L739.68,435.76L739.87,393.62L740.46,410.65L740.65,410.65L741.04,435.76L741.43,401.15L741.63,410.65L742.02,398.46L742.41,418.73L742.61,407.20L743.00,443.84L743.39,407.20L743.58,395.96L744.37,435.76L744.56,435.76L745.15,401.15L745.34,423.57L745.54,410.65L745.73,443.84L746.13,401.15L746.32,404.05L746.52,401.15L746.71,398.46L746.91,435.76L747.30,414.47L747.49,418.73L747.69,407.20L748.08,429.15L748.28,407.20L748.47,423.57L749.25,410.65L749.45,414.47L749.84,407.20L750.23,435.76L750.43,404.05L751.21,418.73L751.40,423.57L751.60,398.46L752.18,410.65L752.38,404.05L752.58,401.15L752.97,435.76L753.16,418.73L753.36,435.76L754.14,407.20L754.33,418.73L754.92,407.20L755.12,443.84L755.31,429.15L755.90,391.43L756.09,398.46L756.29,407.20L756.68,429.15L757.07,395.96L757.27,435.76L757.85,404.05L758.05,418.73L758.24,407.20L758.83,391.43L759.03,414.47L759.22,395.96L759.61,414.47L760.00,401.15L760.20,391.43L760.98,429.15L761.18,414.47L761.37,435.76L761.96,407.20L762.15,407.20L762.74,443.84L762.93,395.96L763.13,429.15L763.72,401.15L763.91,404.05L764.11,395.96L764.50,410.65L764.89,407.20L765.08,410.65L765.67,389.36L765.87,398.46L766.06,435.76L766.26,410.65L766.84,410.65L767.04,435.76L767.23,401.15L767.82,407.20L768.02,404.05L768.60,435.76L768.80,418.73L768.99,418.73L769.58,395.96L769.78,407.20L769.97,410.65L770.17,407.20L770.56,443.84L770.75,429.15L770.95,398.46L771.14,429.15L771.53,395.96L771.73,414.47L771.93,418.73L772.12,393.62L772.71,410.65L772.90,401.15L773.10,414.47L773.68,398.46L773.88,410.65L774.08,407.20L774.66,407.20L774.86,418.73L775.05,404.05L775.25,423.57L775.64,418.73L775.83,393.62L776.03,418.73L776.62,383.77L776.81,407.20L777.20,418.73L777.59,395.96L777.79,401.15L778.57,423.57L778.77,414.47L779.16,393.62L779.55,429.15L779.74,410.65L780.13,435.76L780.53,389.36L780.72,404.05L781.31,395.96L781.50,398.46L781.70,401.15L781.89,398.46L782.09,407.20L782.48,398.46L782.68,398.46L783.46,429.15L783.65,404.05L784.04,389.36L784.44,435.76L784.63,407.20L784.83,418.73L785.22,393.62L785.41,410.65L785.61,393.62L786.19,423.57L786.39,414.47L786.59,404.05L786.78,414.47L787.37,414.47L787.56,401.15L788.15,443.84L788.34,443.84L788.54,398.46L788.74,395.96L789.13,435.76L789.32,414.47L789.52,401.15L789.71,410.65L789.91,389.36L790.30,407.20L790.49,407.20L790.89,414.47L791.28,395.96L791.47,414.47L792.25,393.62L792.45,395.96L792.64,429.15L793.23,404.05L793.43,401.15L793.82,387.40L794.01,435.76L794.21,435.76L794.40,418.73L794.79,407.20L794.99,429.15L795.19,407.20L795.38,401.15L795.58,385.54L796.16,410.65L796.36,407.20L796.75,418.73L797.14,389.36L797.34,410.65L797.73,398.46L798.12,414.47L798.31,423.57L798.51,393.62L799.09,410.65L799.29,393.62L799.88,414.47L800.07,398.46L800.27,404.05L800.46,418.73L801.05,391.43L801.24,429.15L801.44,389.36L802.03,429.15L802.22,393.62L802.81,389.36L803.00,401.15L803.20,423.57L803.98,393.62L804.18,385.54L804.57,414.47L804.96,401.15L805.15,404.05L805.35,387.40L805.54,414.47L805.94,410.65L806.13,401.15L806.33,429.15L806.91,395.96L807.11,398.46L807.30,414.47L807.50,387.40L807.89,410.65L808.09,414.47L808.28,391.43L808.48,418.73L808.87,401.15L809.06,414.47L809.45,391.43L809.65,423.57L809.84,404.05L810.04,423.57L810.63,393.62L810.82,393.62L811.02,404.05L811.21,418.73L811.80,383.77L811.99,407.20L812.19,393.62L812.39,423.57L812.78,418.73L812.97,389.36L813.17,383.77L813.75,414.47L813.95,410.65L814.34,443.84L814.73,389.36L814.93,393.62L815.12,410.65L815.71,404.05L815.90,395.96L816.10,401.15L816.49,393.62L816.69,395.96L816.88,407.20L817.47,398.46L817.66,410.65L817.86,401.15L818.25,407.20L818.44,398.46L818.64,407.20L818.84,414.47L819.23,418.73L819.62,393.62L819.81,398.46L820.01,410.65L820.59,387.40L820.79,398.46L821.18,423.57L821.57,407.20L821.77,407.20L822.35,410.65L822.55,395.96L822.74,410.65L823.33,395.96L823.53,429.15L823.72,410.65L824.11,389.36L824.31,414.47L824.50,404.05L824.70,418.73L824.89,395.96L825.48,401.15L825.68,423.57L826.26,398.46L826.46,407.20L826.65,389.36L826.85,404.05L827.24,383.77L827.44,404.05L827.63,398.46L827.83,429.15L828.41,393.62L828.61,423.57L829.00,383.77L829.39,429.15L829.59,389.36L830.17,385.54L830.37,454.26L830.56,401.15L830.76,393.62L831.15,423.57L831.34,398.46L831.54,404.05L831.74,410.65L832.32,389.36L832.52,401.15L832.71,435.76L832.91,393.62L833.30,395.96L833.49,418.73L833.69,429.15L833.89,393.62L834.28,410.65L834.47,407.20L834.67,395.96L835.06,418.73L835.25,407.20L835.45,414.47L835.84,407.20L836.23,414.47L836.43,404.05L836.82,418.73L837.21,395.96L837.40,398.46L837.60,391.43L838.19,414.47L838.38,423.57L838.58,443.84L838.97,401.15L839.16,407.20L839.36,410.65L839.55,401.15L839.95,418.73L840.14,407.20L840.34,401.15L840.53,423.57L841.12,398.46L841.31,407.20L841.70,395.96L842.10,398.46L842.29,389.36L842.49,423.57L843.07,389.36L843.27,407.20L843.46,404.05L843.66,418.73L844.05,410.65L844.25,443.84L844.83,385.54L845.03,410.65L845.22,391.43L845.81,423.57L846.00,401.15L846.20,418.73L846.98,395.96L847.18,401.15L847.76,407.20L847.96,387.40L848.15,391.43L848.74,423.57L848.94,418.73L849.13,423.57L849.91,393.62L850.11,398.46L850.50,389.36L850.89,404.05L851.09,391.43L851.67,423.57L851.87,414.47L852.06,418.73L852.65,391.43L852.85,395.96L853.04,407.20L853.82,391.43L854.02,423.57L854.21,398.46L854.80,423.57L855.00,435.76L855.58,385.54L855.78,404.05L855.97,423.57L856.36,393.62L856.75,401.15L856.95,414.47L857.34,383.77L857.73,398.46L857.93,398.46L858.12,410.65L858.32,383.77L858.71,401.15L858.90,393.62L859.49,410.65L859.69,410.65L859.88,414.47L860.47,435.76L860.66,401.15L860.86,429.15L861.64,393.62L861.84,383.77L862.03,423.57L862.62,410.65L862.81,423.57L863.20,401.15L863.40,150.09" fill="none" stroke="#90ee90" stroke-width="1" stroke-linejoin="round"/>
</g>
<path d="M62,517h2v5h-2zM172,517h2v5h-2zM283,517h2v5h-2zM393,517h2v5h-2zM503,517h2v5h-2zM613,517h2v5h-2zM724,517h2v5h-2zM834,517h2v5h-2zM57,493h5v2h-5zM57,410h5v2h-5zM57,326h5v2h-5zM57,243h5v2h-5zM57,159h5v2h-5zM57,468h5v2h-5zM57,385h5v2h-5zM57,301h5v2h-5zM57,218h5v2h-5zM57,134h5v2h-5zM57,435h5v2h-5zM57,351h5v2h-5zM57,268h5v2h-5zM57,185h5v2h-5zM57,101h5v2h-5z" fill="#b6b6b6" stroke="none"/>
<rect x="62.5" y="77.5" width="806.0" height="439.0" fill="none" stroke="#b6b6b6" stroke-width="1"/>
<text class="tk" x="63.00" y="536.4" text-anchor="middle">0</text>
<text class="tk" x="173.26" y="536.4" text-anchor="middle">500</text>
<text class="tk" x="283.52" y="536.4" text-anchor="middle">1000</text>
<text class="tk" x="393.78" y="536.4" text-anchor="middle">1500</text>
<text class="tk" x="504.04" y="536.4" text-anchor="middle">2000</text>
<text class="tk" x="614.30" y="536.4" text-anchor="middle">2500</text>
<text class="tk" x="724.56" y="536.4" text-anchor="middle">3000</text>
<text class="tk" x="834.82" y="536.4" text-anchor="middle">3500</text>
<text class="tk" x="53.9" y="498.56" text-anchor="end">1</text>
<text class="tk" x="53.9" y="415.15" text-anchor="end">10</text>
<text class="tk" x="53.9" y="331.74" text-anchor="end">100</text>
<text class="tk" x="53.9" y="248.33" text-anchor="end">1000</text>
<text class="tk" x="53.9" y="164.92" text-anchor="end">10k</text>
<text class="tm" x="54.4" y="471.55" text-anchor="end">2</text>
<text class="tm" x="54.4" y="388.14" text-anchor="end">2</text>
<text class="tm" x="54.4" y="304.73" text-anchor="end">2</text>
<text class="tm" x="54.4" y="221.32" text-anchor="end">2</text>
<text class="tm" x="54.4" y="137.91" text-anchor="end">2</text>
<text class="tm" x="54.4" y="438.36" text-anchor="end">5</text>
<text class="tm" x="54.4" y="354.95" text-anchor="end">5</text>
<text class="tm" x="54.4" y="271.54" text-anchor="end">5</text>
<text class="tm" x="54.4" y="188.13" text-anchor="end">5</text>
<text class="tm" x="54.4" y="104.72" text-anchor="end">5</text>
<text class="ti" x="285.2" y="38.0">γ-Spectrum 5920471.018s</text>
<text class="at" x="401.3" y="574.6">Energy / keV</text>
<text class="at" transform="translate(17.7,383.0) rotate(-90)">Events / 6940912</text>
</svg></div></body></html>
